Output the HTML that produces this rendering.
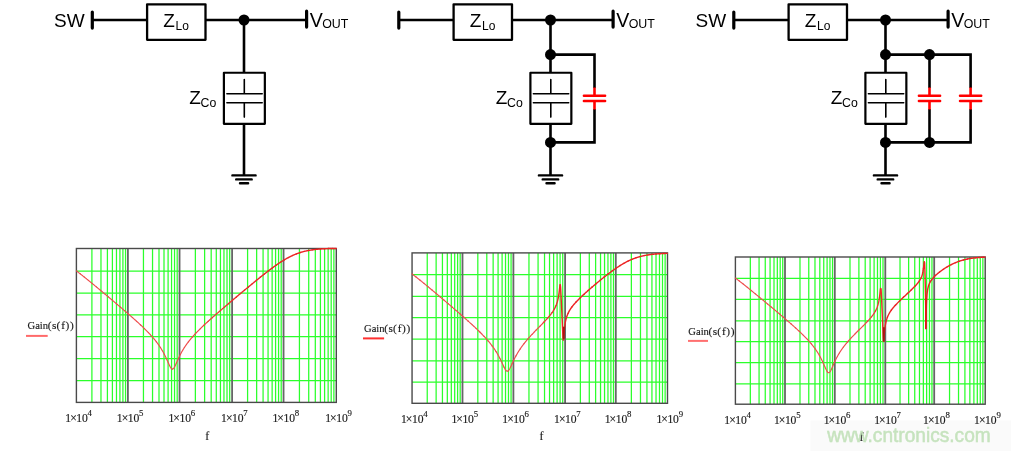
<!DOCTYPE html><html><head><meta charset="utf-8"><style>html,body{margin:0;padding:0;background:#fff;overflow:hidden}svg{display:block;will-change:transform}.s{font-family:"Liberation Sans",sans-serif;fill:#000}.m{font-family:"Liberation Serif",serif;fill:#1a1a1a;stroke:#1a1a1a;stroke-width:0.15px}</style></head><body><svg width="1011" height="451" viewBox="0 0 1011 451"><g transform="translate(0,0)"><text x="54" y="26.7" class="s" font-size="19">SW</text><g stroke="#000" fill="none" stroke-width="2.6"><path d="M92.3 20H147.2M205.5 20H306.6"/><path d="M244 20V72.8M244 123.8V175.1"/></g><path d="M92.3 12.1V28.1M306.6 11.2V27.1" stroke="#000" stroke-width="3.2" stroke-linecap="round"/><rect x="147.1" y="4.3" width="58.4" height="35.5" fill="none" stroke="#000" stroke-width="2.3" stroke-linejoin="round"/><rect x="223.9" y="72.75" width="40.95" height="51.05" fill="none" stroke="#000" stroke-width="2.2" stroke-linejoin="round"/><path d="M226.9 93.7H262.2M226.9 102.8H262.2M244.3 79.6V93.7M244.3 102.8V117.1" stroke="#000" stroke-width="1.6" fill="none" stroke-linecap="round"/><path d="M232.4 175.4H255.6M236.2 179.4H251.7M240 183.2H248.1" stroke="#000" stroke-width="2.4" stroke-linecap="round"/><circle cx="244" cy="20" r="5.5"/><text x="163.3" y="27" class="s" font-size="19">Z</text><text x="175.6" y="29.8" class="s" font-size="12">Lo</text><text x="309.7" y="26.5" class="s" font-size="19.6">V</text><text x="322.2" y="28.1" class="s" font-size="12.4">OUT</text><text x="189.2" y="103.5" class="s" font-size="19">Z</text><text x="200.5" y="106.6" class="s" font-size="12.3">Co</text></g><g transform="translate(306.5,0)"><g stroke="#000" fill="none" stroke-width="2.6"><path d="M92.3 20H147.2M205.5 20H306.6"/><path d="M244 20V72.8M244 123.8V175.1"/></g><path d="M92.3 12.1V28.1M306.6 11.2V27.1" stroke="#000" stroke-width="3.2" stroke-linecap="round"/><rect x="147.1" y="4.3" width="58.4" height="35.5" fill="none" stroke="#000" stroke-width="2.3" stroke-linejoin="round"/><rect x="223.9" y="72.75" width="40.95" height="51.05" fill="none" stroke="#000" stroke-width="2.2" stroke-linejoin="round"/><path d="M226.9 93.7H262.2M226.9 102.8H262.2M244.3 79.6V93.7M244.3 102.8V117.1" stroke="#000" stroke-width="1.6" fill="none" stroke-linecap="round"/><path d="M232.4 175.4H255.6M236.2 179.4H251.7M240 183.2H248.1" stroke="#000" stroke-width="2.4" stroke-linecap="round"/><circle cx="244" cy="20" r="5.5"/><text x="163.3" y="27" class="s" font-size="19">Z</text><text x="175.6" y="29.8" class="s" font-size="12">Lo</text><text x="309.7" y="26.5" class="s" font-size="19.6">V</text><text x="322.2" y="28.1" class="s" font-size="12.4">OUT</text><text x="189.2" y="103.5" class="s" font-size="19">Z</text><text x="200.5" y="106.6" class="s" font-size="12.3">Co</text><path d="M244 54.6 H288 V88 M244 142.4 H288 V109" stroke="#000" stroke-width="2.6" fill="none"/><path d="M288 87.5V95.7M288 100.9V109.5" stroke="#f00" stroke-width="2.6" fill="none"/><path d="M277.4 95.7H298.6 M277.4 100.9H298.6" stroke="#f00" stroke-width="2.5" stroke-linecap="round"/><circle cx="244" cy="54.6" r="5.5"/><circle cx="244" cy="142.4" r="5.5"/></g><g transform="translate(641.5,0)"><text x="54" y="26.7" class="s" font-size="19">SW</text><g stroke="#000" fill="none" stroke-width="2.6"><path d="M92.3 20H147.2M205.5 20H306.6"/><path d="M244 20V72.8M244 123.8V175.1"/></g><path d="M92.3 12.1V28.1M306.6 11.2V27.1" stroke="#000" stroke-width="3.2" stroke-linecap="round"/><rect x="147.1" y="4.3" width="58.4" height="35.5" fill="none" stroke="#000" stroke-width="2.3" stroke-linejoin="round"/><rect x="223.9" y="72.75" width="40.95" height="51.05" fill="none" stroke="#000" stroke-width="2.2" stroke-linejoin="round"/><path d="M226.9 93.7H262.2M226.9 102.8H262.2M244.3 79.6V93.7M244.3 102.8V117.1" stroke="#000" stroke-width="1.6" fill="none" stroke-linecap="round"/><path d="M232.4 175.4H255.6M236.2 179.4H251.7M240 183.2H248.1" stroke="#000" stroke-width="2.4" stroke-linecap="round"/><circle cx="244" cy="20" r="5.5"/><text x="163.3" y="27" class="s" font-size="19">Z</text><text x="175.6" y="29.8" class="s" font-size="12">Lo</text><text x="309.7" y="26.5" class="s" font-size="19.6">V</text><text x="322.2" y="28.1" class="s" font-size="12.4">OUT</text><text x="189.2" y="103.5" class="s" font-size="19">Z</text><text x="200.5" y="106.6" class="s" font-size="12.3">Co</text><path d="M244 54.6 H329.1 V88 M244 142.4 H329.1 V109" stroke="#000" stroke-width="2.6" fill="none"/><path d="M288 54.6 V88 M288 142.4 V109" stroke="#000" stroke-width="2.6" fill="none"/><path d="M288 87.5V95.7M288 100.9V109.5" stroke="#f00" stroke-width="2.6" fill="none"/><path d="M277.4 95.7H298.6 M277.4 100.9H298.6" stroke="#f00" stroke-width="2.5" stroke-linecap="round"/><path d="M329.1 87.5V95.7M329.1 100.9V109.5" stroke="#f00" stroke-width="2.6" fill="none"/><path d="M318.5 95.7H339.7 M318.5 100.9H339.7" stroke="#f00" stroke-width="2.5" stroke-linecap="round"/><circle cx="244" cy="54.6" r="5.5"/><circle cx="244" cy="142.4" r="5.5"/><circle cx="288" cy="54.6" r="5.5"/><circle cx="288" cy="142.4" r="5.5"/></g><rect x="810.5" y="420.5" width="200.5" height="30.5" fill="#fafafa"/><path d="M76.4 271.1H336.3M76.4 293.2H336.3M76.4 314.9H336.3M76.4 336.7H336.3M76.4 358.6H336.3M76.4 380.7H336.3M91.9 248.5V402.4M100.97 248.5V402.4M107.41 248.5V402.4M112.4 248.5V402.4M116.47 248.5V402.4M119.92 248.5V402.4M122.91 248.5V402.4M125.54 248.5V402.4M143.45 248.5V402.4M152.54 248.5V402.4M159 248.5V402.4M164 248.5V402.4M168.09 248.5V402.4M171.55 248.5V402.4M174.54 248.5V402.4M177.19 248.5V402.4M195.37 248.5V402.4M204.62 248.5V402.4M211.19 248.5V402.4M216.28 248.5V402.4M220.44 248.5V402.4M223.96 248.5V402.4M227.01 248.5V402.4M229.7 248.5V402.4M247.59 248.5V402.4M256.65 248.5V402.4M263.08 248.5V402.4M268.06 248.5V402.4M272.14 248.5V402.4M275.58 248.5V402.4M278.56 248.5V402.4M281.2 248.5V402.4M299.43 248.5V402.4M308.72 248.5V402.4M315.31 248.5V402.4M320.42 248.5V402.4M324.6 248.5V402.4M328.13 248.5V402.4M331.19 248.5V402.4M333.89 248.5V402.4" stroke="#2bff2b" stroke-width="1.25" fill="none"/><path d="M127.9 248.5V402.4M179.55 248.5V402.4M232.1 248.5V402.4M283.55 248.5V402.4" stroke="#666" stroke-width="1.8" fill="none"/><rect x="76.4" y="248.5" width="259.9" height="153.9" fill="none" stroke="#4a4a4a" stroke-width="1.4"/><polyline points="76.4,270.86 76.65,271.05 76.9,271.24 77.15,271.43 77.4,271.62 77.65,271.82 77.9,272.01 78.15,272.2 78.4,272.4 78.65,272.59 78.9,272.79 79.15,272.98 79.4,273.18 79.65,273.37 79.9,273.57 80.15,273.76 80.4,273.96" stroke="#ee4c4c" stroke-width="1.15" fill="none" stroke-linejoin="round" stroke-linecap="round"/><polyline points="80.4,273.96 80.65,274.16 80.9,274.35 81.15,274.55 81.4,274.75 81.65,274.94 81.9,275.14 82.15,275.34 82.4,275.54 82.65,275.74 82.9,275.94 83.15,276.13 83.4,276.33 83.65,276.53 83.9,276.73 84.15,276.93 84.4,277.13" stroke="#ee4c4c" stroke-width="1.15" fill="none" stroke-linejoin="round" stroke-linecap="round"/><polyline points="84.4,277.13 84.65,277.33 84.9,277.53 85.15,277.74 85.4,277.94 85.65,278.14 85.9,278.34 86.15,278.54 86.4,278.74 86.65,278.94 86.9,279.15 87.15,279.35 87.4,279.55 87.65,279.75 87.9,279.96 88.15,280.16 88.4,280.36" stroke="#ee4c4c" stroke-width="1.15" fill="none" stroke-linejoin="round" stroke-linecap="round"/><polyline points="88.4,280.36 88.65,280.57 88.9,280.77 89.15,280.97 89.4,281.18 89.65,281.38 89.9,281.59 90.15,281.79 90.4,281.99 90.65,282.2 90.9,282.4 91.15,282.61 91.4,282.81 91.65,283.02 91.9,283.22 92.15,283.43 92.4,283.63" stroke="#ee4c4c" stroke-width="1.15" fill="none" stroke-linejoin="round" stroke-linecap="round"/><polyline points="92.4,283.63 92.65,283.84 92.9,284.04 93.15,284.25 93.4,284.45 93.65,284.66 93.9,284.87 94.15,285.07 94.4,285.28 94.65,285.49 94.9,285.69 95.15,285.9 95.4,286.1 95.65,286.31 95.9,286.52 96.15,286.72 96.4,286.93" stroke="#ee4c4c" stroke-width="1.15" fill="none" stroke-linejoin="round" stroke-linecap="round"/><polyline points="96.4,286.93 96.65,287.14 96.9,287.35 97.15,287.55 97.4,287.76 97.65,287.97 97.9,288.17 98.15,288.38 98.4,288.59 98.65,288.8 98.9,289 99.15,289.21 99.4,289.42 99.65,289.63 99.9,289.84 100.15,290.04 100.4,290.25" stroke="#ee4c4c" stroke-width="1.15" fill="none" stroke-linejoin="round" stroke-linecap="round"/><polyline points="100.4,290.25 100.65,290.46 100.9,290.67 101.15,290.88 101.4,291.09 101.65,291.29 101.9,291.5 102.15,291.71 102.4,291.92 102.65,292.13 102.9,292.34 103.15,292.55 103.4,292.76 103.65,292.96 103.9,293.17 104.15,293.38 104.4,293.59" stroke="#ee4c4c" stroke-width="1.15" fill="none" stroke-linejoin="round" stroke-linecap="round"/><polyline points="104.4,293.59 104.65,293.8 104.9,294.01 105.15,294.22 105.4,294.43 105.65,294.64 105.9,294.85 106.15,295.06 106.4,295.27 106.65,295.48 106.9,295.69 107.15,295.9 107.4,296.11 107.65,296.32 107.9,296.53 108.15,296.74 108.4,296.95" stroke="#ee4c4c" stroke-width="1.15" fill="none" stroke-linejoin="round" stroke-linecap="round"/><polyline points="108.4,296.95 108.65,297.16 108.9,297.37 109.15,297.58 109.4,297.79 109.65,298 109.9,298.21 110.15,298.42 110.4,298.63 110.65,298.84 110.9,299.05 111.15,299.26 111.4,299.47 111.65,299.68 111.9,299.89 112.15,300.1 112.4,300.31" stroke="#ee4c4c" stroke-width="1.15" fill="none" stroke-linejoin="round" stroke-linecap="round"/><polyline points="112.4,300.31 112.65,300.53 112.9,300.74 113.15,300.95 113.4,301.16 113.65,301.37 113.9,301.58 114.15,301.79 114.4,302 114.65,302.22 114.9,302.43 115.15,302.64 115.4,302.85 115.65,303.06 115.9,303.28 116.15,303.49 116.4,303.7" stroke="#ee4c4c" stroke-width="1.15" fill="none" stroke-linejoin="round" stroke-linecap="round"/><polyline points="116.4,303.7 116.65,303.91 116.9,304.12 117.15,304.34 117.4,304.55 117.65,304.76 117.9,304.97 118.15,305.19 118.4,305.4 118.65,305.61 118.9,305.82 119.15,306.04 119.4,306.25 119.65,306.46 119.9,306.68 120.15,306.89 120.4,307.1" stroke="#ee4c4c" stroke-width="1.15" fill="none" stroke-linejoin="round" stroke-linecap="round"/><polyline points="120.4,307.1 120.65,307.32 120.9,307.53 121.15,307.74 121.4,307.96 121.65,308.17 121.9,308.39 122.15,308.6 122.4,308.81 122.65,309.03 122.9,309.24 123.15,309.46 123.4,309.67 123.65,309.89 123.9,310.1 124.15,310.32 124.4,310.53" stroke="#ee4c4c" stroke-width="1.15" fill="none" stroke-linejoin="round" stroke-linecap="round"/><polyline points="124.4,310.53 124.65,310.75 124.9,310.96 125.15,311.18 125.4,311.39 125.65,311.61 125.9,311.83 126.15,312.04 126.4,312.26 126.65,312.48 126.9,312.69 127.15,312.91 127.4,313.13 127.65,313.34 127.9,313.56 128.15,313.78 128.4,314" stroke="#ee4c4c" stroke-width="1.15" fill="none" stroke-linejoin="round" stroke-linecap="round"/><polyline points="128.4,314 128.65,314.21 128.9,314.43 129.15,314.65 129.4,314.87 129.65,315.09 129.9,315.31 130.15,315.53 130.4,315.74 130.65,315.96 130.9,316.18 131.15,316.4 131.4,316.62 131.65,316.84 131.9,317.07 132.15,317.29 132.4,317.51" stroke="#ee4c4c" stroke-width="1.15" fill="none" stroke-linejoin="round" stroke-linecap="round"/><polyline points="132.4,317.51 132.65,317.73 132.9,317.95 133.15,318.17 133.4,318.4 133.65,318.62 133.9,318.84 134.15,319.06 134.4,319.29 134.65,319.51 134.9,319.74 135.15,319.96 135.4,320.18 135.65,320.41 135.9,320.64 136.15,320.86 136.4,321.09" stroke="#ee4c4c" stroke-width="1.15" fill="none" stroke-linejoin="round" stroke-linecap="round"/><polyline points="136.4,321.09 136.65,321.31 136.9,321.54 137.15,321.77 137.4,322 137.65,322.22 137.9,322.45 138.15,322.68 138.4,322.91 138.65,323.14 138.9,323.37 139.15,323.6 139.4,323.84 139.65,324.07 139.9,324.3 140.15,324.53 140.4,324.77" stroke="#ee4c4c" stroke-width="1.15" fill="none" stroke-linejoin="round" stroke-linecap="round"/><polyline points="140.4,324.77 140.65,325 140.9,325.24 141.15,325.47 141.4,325.71 141.65,325.94 141.9,326.18 142.15,326.42 142.4,326.66 142.65,326.9 142.9,327.14 143.15,327.38 143.4,327.62 143.65,327.86 143.9,328.1 144.15,328.35 144.4,328.59" stroke="#ee4c4c" stroke-width="1.15" fill="none" stroke-linejoin="round" stroke-linecap="round"/><polyline points="144.4,328.59 144.65,328.84 144.9,329.08 145.15,329.33 145.4,329.58 145.65,329.83 145.9,330.07 146.15,330.33 146.4,330.58 146.65,330.83 146.9,331.08 147.15,331.34 147.4,331.59 147.65,331.85 147.9,332.11 148.15,332.37 148.4,332.63" stroke="#ee4c4c" stroke-width="1.15" fill="none" stroke-linejoin="round" stroke-linecap="round"/><polyline points="148.4,332.63 148.65,332.89 148.9,333.15 149.15,333.42 149.4,333.68 149.65,333.95 149.9,334.22 150.15,334.49 150.4,334.76 150.65,335.03 150.9,335.31 151.15,335.58 151.4,335.86 151.65,336.14 151.9,336.42 152.15,336.71 152.4,336.99" stroke="#ee4c4c" stroke-width="1.15" fill="none" stroke-linejoin="round" stroke-linecap="round"/><polyline points="152.4,336.99 152.65,337.28 152.9,337.57 153.15,337.86 153.4,338.15 153.65,338.44 153.9,338.74 154.15,339.04 154.4,339.34 154.65,339.65 154.9,339.95 155.15,340.26 155.4,340.58 155.65,340.89 155.9,341.21 156.15,341.53 156.4,341.85" stroke="#ee4c4c" stroke-width="1.15" fill="none" stroke-linejoin="round" stroke-linecap="round"/><polyline points="156.4,341.85 156.65,342.18 156.9,342.51 157.15,342.84 157.4,343.18 157.65,343.51 157.9,343.86 158.15,344.2 158.4,344.55 158.65,344.91 158.9,345.27 159.15,345.63 159.4,345.99 159.65,346.37 159.9,346.74 160.15,347.12 160.4,347.51" stroke="#ee4c4c" stroke-width="1.15" fill="none" stroke-linejoin="round" stroke-linecap="round"/><polyline points="160.4,347.51 160.65,347.89 160.9,348.29 161.15,348.69 161.4,349.09 161.65,349.5 161.9,349.92 162.15,350.34 162.4,350.77 162.65,351.21 162.9,351.65 163.15,352.09 163.4,352.55 163.65,353.01 163.9,353.48 164.15,353.95 164.4,354.43" stroke="#ee4c4c" stroke-width="1.15" fill="none" stroke-linejoin="round" stroke-linecap="round"/><polyline points="164.4,354.43 164.65,354.92 164.9,355.42 165.15,355.92 165.4,356.43 165.65,356.95 165.9,357.47 166.15,358 166.4,358.54 166.65,359.09 166.9,359.64 167.15,360.19 167.4,360.75 167.65,361.32 167.9,361.88 168.15,362.45 168.4,363.01" stroke="#ee4c4c" stroke-width="1.15" fill="none" stroke-linejoin="round" stroke-linecap="round"/><polyline points="168.4,363.01 168.65,363.57 168.9,364.13 169.15,364.68 169.4,365.21 169.65,365.73 169.9,366.23 170.15,366.71 170.4,367.16 170.65,367.57 170.9,367.94 171.15,368.26 171.4,368.54 171.65,368.76 171.9,368.92 172.15,369.01 172.4,369.05" stroke="#ee4c4c" stroke-width="1.15" fill="none" stroke-linejoin="round" stroke-linecap="round"/><polyline points="172.4,369.05 172.65,369.01 172.9,368.92 173.15,368.76 173.4,368.54 173.65,368.26 173.9,367.94 174.15,367.57 174.4,367.16 174.65,366.71 174.9,366.23 175.15,365.73 175.4,365.21 175.65,364.68 175.9,364.13 176.15,363.57 176.4,363.01" stroke="#ee4c4c" stroke-width="1.15" fill="none" stroke-linejoin="round" stroke-linecap="round"/><polyline points="176.4,363.01 176.65,362.45 176.9,361.88 177.15,361.31 177.4,360.75 177.65,360.19 177.9,359.64 178.15,359.08 178.4,358.54 178.65,358 178.9,357.47 179.15,356.95 179.4,356.43 179.65,355.92 179.9,355.41 180.15,354.92 180.4,354.43" stroke="#ee4c4c" stroke-width="1.15" fill="none" stroke-linejoin="round" stroke-linecap="round"/><polyline points="180.4,354.43 180.65,353.95 180.9,353.47 181.15,353.01 181.4,352.55 181.65,352.09 181.9,351.65 182.15,351.2 182.4,350.77 182.65,350.34 182.9,349.92 183.15,349.5 183.4,349.09 183.65,348.69 183.9,348.29 184.15,347.89 184.4,347.5" stroke="#ee4b4b" stroke-width="1.16" fill="none" stroke-linejoin="round" stroke-linecap="round"/><polyline points="184.4,347.5 184.65,347.12 184.9,346.74 185.15,346.36 185.4,345.99 185.65,345.63 185.9,345.27 186.15,344.91 186.4,344.55 186.65,344.2 186.9,343.86 187.15,343.51 187.4,343.17 187.65,342.84 187.9,342.51 188.15,342.18 188.4,341.85" stroke="#ee4a4a" stroke-width="1.16" fill="none" stroke-linejoin="round" stroke-linecap="round"/><polyline points="188.4,341.85 188.65,341.53 188.9,341.21 189.15,340.89 189.4,340.57 189.65,340.26 189.9,339.95 190.15,339.65 190.4,339.34 190.65,339.04 190.9,338.74 191.15,338.44 191.4,338.15 191.65,337.86 191.9,337.56 192.15,337.28 192.4,336.99" stroke="#ee4848" stroke-width="1.17" fill="none" stroke-linejoin="round" stroke-linecap="round"/><polyline points="192.4,336.99 192.65,336.7 192.9,336.42 193.15,336.14 193.4,335.86 193.65,335.58 193.9,335.31 194.15,335.03 194.4,334.76 194.65,334.49 194.9,334.22 195.15,333.95 195.4,333.68 195.65,333.42 195.9,333.15 196.15,332.89 196.4,332.63" stroke="#ee4646" stroke-width="1.18" fill="none" stroke-linejoin="round" stroke-linecap="round"/><polyline points="196.4,332.63 196.65,332.37 196.9,332.11 197.15,331.85 197.4,331.59 197.65,331.34 197.9,331.08 198.15,330.83 198.4,330.58 198.65,330.32 198.9,330.07 199.15,329.82 199.4,329.58 199.65,329.33 199.9,329.08 200.15,328.83 200.4,328.59" stroke="#ee4444" stroke-width="1.2" fill="none" stroke-linejoin="round" stroke-linecap="round"/><polyline points="200.4,328.59 200.65,328.35 200.9,328.1 201.15,327.86 201.4,327.62 201.65,327.38 201.9,327.13 202.15,326.9 202.4,326.66 202.65,326.42 202.9,326.18 203.15,325.94 203.4,325.71 203.65,325.47 203.9,325.23 204.15,325 204.4,324.77" stroke="#ee4242" stroke-width="1.21" fill="none" stroke-linejoin="round" stroke-linecap="round"/><polyline points="204.4,324.77 204.65,324.53 204.9,324.3 205.15,324.07 205.4,323.83 205.65,323.6 205.9,323.37 206.15,323.14 206.4,322.91 206.65,322.68 206.9,322.45 207.15,322.22 207.4,322 207.65,321.77 207.9,321.54 208.15,321.31 208.4,321.09" stroke="#ed3f3f" stroke-width="1.23" fill="none" stroke-linejoin="round" stroke-linecap="round"/><polyline points="208.4,321.09 208.65,320.86 208.9,320.63 209.15,320.41 209.4,320.18 209.65,319.96 209.9,319.73 210.15,319.51 210.4,319.29 210.65,319.06 210.9,318.84 211.15,318.62 211.4,318.39 211.65,318.17 211.9,317.95 212.15,317.73 212.4,317.51" stroke="#ed3c3c" stroke-width="1.24" fill="none" stroke-linejoin="round" stroke-linecap="round"/><polyline points="212.4,317.51 212.65,317.29 212.9,317.06 213.15,316.84 213.4,316.62 213.65,316.4 213.9,316.18 214.15,315.96 214.4,315.74 214.65,315.52 214.9,315.31 215.15,315.09 215.4,314.87 215.65,314.65 215.9,314.43 216.15,314.21 216.4,314" stroke="#ed3939" stroke-width="1.26" fill="none" stroke-linejoin="round" stroke-linecap="round"/><polyline points="216.4,314 216.65,313.78 216.9,313.56 217.15,313.34 217.4,313.13 217.65,312.91 217.9,312.69 218.15,312.48 218.4,312.26 218.65,312.04 218.9,311.83 219.15,311.61 219.4,311.39 219.65,311.18 219.9,310.96 220.15,310.75 220.4,310.53" stroke="#ed3636" stroke-width="1.28" fill="none" stroke-linejoin="round" stroke-linecap="round"/><polyline points="220.4,310.53 220.65,310.32 220.9,310.1 221.15,309.89 221.4,309.67 221.65,309.46 221.9,309.24 222.15,309.03 222.4,308.81 222.65,308.6 222.9,308.39 223.15,308.17 223.4,307.96 223.65,307.74 223.9,307.53 224.15,307.32 224.4,307.1" stroke="#ed3333" stroke-width="1.3" fill="none" stroke-linejoin="round" stroke-linecap="round"/><polyline points="224.4,307.1 224.65,306.89 224.9,306.68 225.15,306.46 225.4,306.25 225.65,306.04 225.9,305.82 226.15,305.61 226.4,305.4 226.65,305.19 226.9,304.97 227.15,304.76 227.4,304.55 227.65,304.34 227.9,304.12 228.15,303.91 228.4,303.7" stroke="#ed3030" stroke-width="1.31" fill="none" stroke-linejoin="round" stroke-linecap="round"/><polyline points="228.4,303.7 228.65,303.49 228.9,303.27 229.15,303.06 229.4,302.85 229.65,302.64 229.9,302.43 230.15,302.22 230.4,302 230.65,301.79 230.9,301.58 231.15,301.37 231.4,301.16 231.65,300.95 231.9,300.74 232.15,300.52 232.4,300.31" stroke="#ed2e2e" stroke-width="1.33" fill="none" stroke-linejoin="round" stroke-linecap="round"/><polyline points="232.4,300.31 232.65,300.1 232.9,299.89 233.15,299.68 233.4,299.47 233.65,299.26 233.9,299.05 234.15,298.84 234.4,298.63 234.65,298.42 234.9,298.21 235.15,298 235.4,297.79 235.65,297.58 235.9,297.37 236.15,297.16 236.4,296.94" stroke="#ec2b2b" stroke-width="1.35" fill="none" stroke-linejoin="round" stroke-linecap="round"/><polyline points="236.4,296.94 236.65,296.73 236.9,296.52 237.15,296.31 237.4,296.1 237.65,295.9 237.9,295.69 238.15,295.48 238.4,295.27 238.65,295.06 238.9,294.85 239.15,294.64 239.4,294.43 239.65,294.22 239.9,294.01 240.15,293.8 240.4,293.59" stroke="#ec2929" stroke-width="1.36" fill="none" stroke-linejoin="round" stroke-linecap="round"/><polyline points="240.4,293.59 240.65,293.38 240.9,293.17 241.15,292.96 241.4,292.75 241.65,292.55 241.9,292.34 242.15,292.13 242.4,291.92 242.65,291.71 242.9,291.5 243.15,291.29 243.4,291.08 243.65,290.88 243.9,290.67 244.15,290.46 244.4,290.25" stroke="#ec2727" stroke-width="1.37" fill="none" stroke-linejoin="round" stroke-linecap="round"/><polyline points="244.4,290.25 244.65,290.04 244.9,289.84 245.15,289.63 245.4,289.42 245.65,289.21 245.9,289 246.15,288.8 246.4,288.59 246.65,288.38 246.9,288.17 247.15,287.97 247.4,287.76 247.65,287.55 247.9,287.34 248.15,287.14 248.4,286.93" stroke="#ec2525" stroke-width="1.38" fill="none" stroke-linejoin="round" stroke-linecap="round"/><polyline points="248.4,286.93 248.65,286.72 248.9,286.52 249.15,286.31 249.4,286.1 249.65,285.9 249.9,285.69 250.15,285.48 250.4,285.28 250.65,285.07 250.9,284.87 251.15,284.66 251.4,284.45 251.65,284.25 251.9,284.04 252.15,283.84 252.4,283.63" stroke="#ec2323" stroke-width="1.39" fill="none" stroke-linejoin="round" stroke-linecap="round"/><polyline points="252.4,283.63 252.65,283.43 252.9,283.22 253.15,283.02 253.4,282.81 253.65,282.61 253.9,282.4 254.15,282.2 254.4,281.99 254.65,281.79 254.9,281.58 255.15,281.38 255.4,281.18 255.65,280.97 255.9,280.77 256.15,280.57 256.4,280.36" stroke="#ec2323" stroke-width="1.4" fill="none" stroke-linejoin="round" stroke-linecap="round"/><polyline points="256.4,280.36 256.65,280.16 256.9,279.96 257.15,279.75 257.4,279.55 257.65,279.35 257.9,279.15 258.15,278.94 258.4,278.74 258.65,278.54 258.9,278.34 259.15,278.14 259.4,277.94 259.65,277.74 259.9,277.53 260.15,277.33 260.4,277.13" stroke="#ec2222" stroke-width="1.4" fill="none" stroke-linejoin="round" stroke-linecap="round"/><polyline points="260.4,277.13 260.65,276.93 260.9,276.73 261.15,276.53 261.4,276.33 261.65,276.13 261.9,275.94 262.15,275.74 262.4,275.54 262.65,275.34 262.9,275.14 263.15,274.94 263.4,274.75 263.65,274.55 263.9,274.35 264.15,274.15 264.4,273.96" stroke="#ec2222" stroke-width="1.4" fill="none" stroke-linejoin="round" stroke-linecap="round"/><polyline points="264.4,273.96 264.65,273.76 264.9,273.57 265.15,273.37 265.4,273.18 265.65,272.98 265.9,272.79 266.15,272.59 266.4,272.4 266.65,272.2 266.9,272.01 267.15,271.82 267.4,271.62 267.65,271.43 267.9,271.24 268.15,271.05 268.4,270.86" stroke="#ec2222" stroke-width="1.4" fill="none" stroke-linejoin="round" stroke-linecap="round"/><polyline points="268.4,270.86 268.65,270.67 268.9,270.48 269.15,270.29 269.4,270.1 269.65,269.91 269.9,269.72 270.15,269.53 270.4,269.34 270.65,269.15 270.9,268.97 271.15,268.78 271.4,268.59 271.65,268.41 271.9,268.22 272.15,268.04 272.4,267.85" stroke="#ec2222" stroke-width="1.4" fill="none" stroke-linejoin="round" stroke-linecap="round"/><polyline points="272.4,267.85 272.65,267.67 272.9,267.49 273.15,267.31 273.4,267.12 273.65,266.94 273.9,266.76 274.15,266.58 274.4,266.4 274.65,266.22 274.9,266.04 275.15,265.86 275.4,265.69 275.65,265.51 275.9,265.33 276.15,265.16 276.4,264.98" stroke="#ec2222" stroke-width="1.4" fill="none" stroke-linejoin="round" stroke-linecap="round"/><polyline points="276.4,264.98 276.65,264.81 276.9,264.63 277.15,264.46 277.4,264.29 277.65,264.12 277.9,263.95 278.15,263.78 278.4,263.61 278.65,263.44 278.9,263.27 279.15,263.1 279.4,262.94 279.65,262.77 279.9,262.61 280.15,262.44 280.4,262.28" stroke="#ec2222" stroke-width="1.4" fill="none" stroke-linejoin="round" stroke-linecap="round"/><polyline points="280.4,262.28 280.65,262.12 280.9,261.95 281.15,261.79 281.4,261.63 281.65,261.47 281.9,261.32 282.15,261.16 282.4,261 282.65,260.85 282.9,260.69 283.15,260.54 283.4,260.38 283.65,260.23 283.9,260.08 284.15,259.93 284.4,259.78" stroke="#ec2222" stroke-width="1.4" fill="none" stroke-linejoin="round" stroke-linecap="round"/><polyline points="284.4,259.78 284.65,259.63 284.9,259.48 285.15,259.34 285.4,259.19 285.65,259.05 285.9,258.91 286.15,258.76 286.4,258.62 286.65,258.48 286.9,258.34 287.15,258.2 287.4,258.07 287.65,257.93 287.9,257.8 288.15,257.66 288.4,257.53" stroke="#ec2222" stroke-width="1.4" fill="none" stroke-linejoin="round" stroke-linecap="round"/><polyline points="288.4,257.53 288.65,257.4 288.9,257.27 289.15,257.14 289.4,257.01 289.65,256.88 289.9,256.75 290.15,256.63 290.4,256.5 290.65,256.38 290.9,256.26 291.15,256.14 291.4,256.02 291.65,255.9 291.9,255.78 292.15,255.67 292.4,255.55" stroke="#ec2222" stroke-width="1.4" fill="none" stroke-linejoin="round" stroke-linecap="round"/><polyline points="292.4,255.55 292.65,255.44 292.9,255.33 293.15,255.21 293.4,255.1 293.65,254.99 293.9,254.89 294.15,254.78 294.4,254.67 294.65,254.57 294.9,254.47 295.15,254.36 295.4,254.26 295.65,254.16 295.9,254.06 296.15,253.97 296.4,253.87" stroke="#ec2222" stroke-width="1.4" fill="none" stroke-linejoin="round" stroke-linecap="round"/><polyline points="296.4,253.87 296.65,253.77 296.9,253.68 297.15,253.59 297.4,253.5 297.65,253.4 297.9,253.32 298.15,253.23 298.4,253.14 298.65,253.05 298.9,252.97 299.15,252.88 299.4,252.8 299.65,252.72 299.9,252.64 300.15,252.56 300.4,252.48" stroke="#ec2222" stroke-width="1.4" fill="none" stroke-linejoin="round" stroke-linecap="round"/><polyline points="300.4,252.48 300.65,252.4 300.9,252.33 301.15,252.25 301.4,252.18 301.65,252.11 301.9,252.03 302.15,251.96 302.4,251.89 302.65,251.82 302.9,251.76 303.15,251.69 303.4,251.62 303.65,251.56 303.9,251.49 304.15,251.43 304.4,251.37" stroke="#ec2222" stroke-width="1.4" fill="none" stroke-linejoin="round" stroke-linecap="round"/><polyline points="304.4,251.37 304.65,251.31 304.9,251.25 305.15,251.19 305.4,251.13 305.65,251.07 305.9,251.02 306.15,250.96 306.4,250.91 306.65,250.85 306.9,250.8 307.15,250.75 307.4,250.7 307.65,250.65 307.9,250.6 308.15,250.55 308.4,250.5" stroke="#ec2222" stroke-width="1.4" fill="none" stroke-linejoin="round" stroke-linecap="round"/><polyline points="308.4,250.5 308.65,250.46 308.9,250.41 309.15,250.37 309.4,250.32 309.65,250.28 309.9,250.23 310.15,250.19 310.4,250.15 310.65,250.11 310.9,250.07 311.15,250.03 311.4,249.99 311.65,249.95 311.9,249.92 312.15,249.88 312.4,249.84" stroke="#ec2222" stroke-width="1.4" fill="none" stroke-linejoin="round" stroke-linecap="round"/><polyline points="312.4,249.84 312.65,249.81 312.9,249.78 313.15,249.74 313.4,249.71 313.65,249.68 313.9,249.64 314.15,249.61 314.4,249.58 314.65,249.55 314.9,249.52 315.15,249.49 315.4,249.46 315.65,249.43 315.9,249.41 316.15,249.38 316.4,249.35" stroke="#ec2222" stroke-width="1.4" fill="none" stroke-linejoin="round" stroke-linecap="round"/><polyline points="316.4,249.35 316.65,249.33 316.9,249.3 317.15,249.28 317.4,249.25 317.65,249.23 317.9,249.21 318.15,249.18 318.4,249.16 318.65,249.14 318.9,249.12 319.15,249.09 319.4,249.07 319.65,249.05 319.9,249.03 320.15,249.01 320.4,248.99" stroke="#ec2222" stroke-width="1.4" fill="none" stroke-linejoin="round" stroke-linecap="round"/><polyline points="320.4,248.99 320.65,248.97 320.9,248.96 321.15,248.94 321.4,248.92 321.65,248.9 321.9,248.89 322.15,248.87 322.4,248.85 322.65,248.84 322.9,248.82 323.15,248.8 323.4,248.79 323.65,248.78 323.9,248.76 324.15,248.75 324.4,248.73" stroke="#ec2222" stroke-width="1.4" fill="none" stroke-linejoin="round" stroke-linecap="round"/><polyline points="324.4,248.73 324.65,248.72 324.9,248.71 325.15,248.69 325.4,248.68 325.65,248.67 325.9,248.65 326.15,248.64 326.4,248.63 326.65,248.62 326.9,248.61 327.15,248.6 327.4,248.59 327.65,248.58 327.9,248.56 328.15,248.55 328.4,248.54" stroke="#ec2222" stroke-width="1.4" fill="none" stroke-linejoin="round" stroke-linecap="round"/><polyline points="328.4,248.54 328.65,248.53 328.9,248.53 329.15,248.52 329.4,248.51 329.65,248.5 329.9,248.5 330.15,248.5 330.4,248.5 330.65,248.5 330.9,248.5 331.15,248.5 331.4,248.5 331.65,248.5 331.9,248.5 332.15,248.5 332.4,248.5" stroke="#ec2222" stroke-width="1.4" fill="none" stroke-linejoin="round" stroke-linecap="round"/><polyline points="332.4,248.5 332.65,248.5 332.9,248.5 333.15,248.5 333.4,248.5 333.65,248.5 333.9,248.5 334.15,248.5 334.4,248.5 334.65,248.5 334.9,248.5 335.15,248.5 335.4,248.5 335.65,248.5 335.9,248.5 336.15,248.5" stroke="#ec2222" stroke-width="1.4" fill="none" stroke-linejoin="round" stroke-linecap="round"/><text x="65.3 70.2 76.3 82" y="422" class="m" font-size="11.6">1×10</text><text x="87.6" y="416" class="m" font-size="8.8">4</text><text x="116.8 121.7 127.8 133.5" y="422" class="m" font-size="11.6">1×10</text><text x="139.1" y="416" class="m" font-size="8.8">5</text><text x="168.45 173.35 179.45 185.15" y="422" class="m" font-size="11.6">1×10</text><text x="190.75" y="416" class="m" font-size="8.8">6</text><text x="221 225.9 232 237.7" y="422" class="m" font-size="11.6">1×10</text><text x="243.3" y="416" class="m" font-size="8.8">7</text><text x="272.45 277.35 283.45 289.15" y="422" class="m" font-size="11.6">1×10</text><text x="294.75" y="416" class="m" font-size="8.8">8</text><text x="325.2 330.1 336.2 341.9" y="422" class="m" font-size="11.6">1×10</text><text x="347.5" y="416" class="m" font-size="8.8">9</text><text x="205.2" y="439.5" class="m" font-size="12">f</text><text x="27.5" y="329.1" class="m" font-size="11.3" textLength="20.6" lengthAdjust="spacingAndGlyphs">Gain</text><text x="47.8 51.9 56.4 61.2 65.5 69.9" y="329.1" class="m" font-size="11.3">(s(f))</text><path d="M26 335.9H47.7" stroke="#ff6a6a" stroke-width="2"/><path d="M412.06 274.6H667.5M412.06 296.3H667.5M412.06 317.6H667.5M412.06 339.2H667.5M412.06 360.8H667.5M412.06 382.2H667.5M427.24 252.9V403.3M436.13 252.9V403.3M442.43 252.9V403.3M447.32 252.9V403.3M451.31 252.9V403.3M454.69 252.9V403.3M457.61 252.9V403.3M460.19 252.9V403.3M477.82 252.9V403.3M486.79 252.9V403.3M493.14 252.9V403.3M498.08 252.9V403.3M502.11 252.9V403.3M505.52 252.9V403.3M508.47 252.9V403.3M511.07 252.9V403.3M528.96 252.9V403.3M538.07 252.9V403.3M544.53 252.9V403.3M549.54 252.9V403.3M553.63 252.9V403.3M557.09 252.9V403.3M560.09 252.9V403.3M562.73 252.9V403.3M580.36 252.9V403.3M589.29 252.9V403.3M595.62 252.9V403.3M600.54 252.9V403.3M604.55 252.9V403.3M607.95 252.9V403.3M610.89 252.9V403.3M613.48 252.9V403.3M631.36 252.9V403.3M640.47 252.9V403.3M646.93 252.9V403.3M651.94 252.9V403.3M656.03 252.9V403.3M659.49 252.9V403.3M662.49 252.9V403.3M665.13 252.9V403.3" stroke="#2bff2b" stroke-width="1.25" fill="none"/><path d="M462.5 252.9V403.3M513.4 252.9V403.3M565.1 252.9V403.3M615.8 252.9V403.3" stroke="#666" stroke-width="1.8" fill="none"/><rect x="412.06" y="252.9" width="255.44" height="150.4" fill="none" stroke="#4a4a4a" stroke-width="1.4"/><polyline points="412.06,273.93 412.31,274.12 412.56,274.31 412.81,274.5 413.06,274.69 413.31,274.88 413.56,275.08 413.81,275.27 414.06,275.46 414.31,275.65 414.56,275.85 414.81,276.04 415.06,276.24 415.31,276.43 415.56,276.63 415.81,276.82 416.06,277.02" stroke="#ee4c4c" stroke-width="1.15" fill="none" stroke-linejoin="round" stroke-linecap="round"/><polyline points="416.06,277.02 416.31,277.21 416.56,277.41 416.81,277.61 417.06,277.8 417.31,278 417.56,278.2 417.81,278.4 418.06,278.6 418.31,278.8 418.56,278.99 418.81,279.19 419.06,279.39 419.31,279.59 419.56,279.79 419.81,279.99 420.06,280.2" stroke="#ee4c4c" stroke-width="1.15" fill="none" stroke-linejoin="round" stroke-linecap="round"/><polyline points="420.06,280.2 420.31,280.4 420.56,280.6 420.81,280.8 421.06,281 421.31,281.2 421.56,281.41 421.81,281.61 422.06,281.81 422.31,282.01 422.56,282.22 422.81,282.42 423.06,282.62 423.31,282.83 423.56,283.03 423.81,283.23 424.06,283.44" stroke="#ee4c4c" stroke-width="1.15" fill="none" stroke-linejoin="round" stroke-linecap="round"/><polyline points="424.06,283.44 424.31,283.64 424.56,283.85 424.81,284.05 425.06,284.26 425.31,284.46 425.56,284.67 425.81,284.87 426.06,285.08 426.31,285.29 426.56,285.49 426.81,285.7 427.06,285.91 427.31,286.11 427.56,286.32 427.81,286.53 428.06,286.73" stroke="#ee4c4c" stroke-width="1.15" fill="none" stroke-linejoin="round" stroke-linecap="round"/><polyline points="428.06,286.73 428.31,286.94 428.56,287.15 428.81,287.35 429.06,287.56 429.31,287.77 429.56,287.98 429.81,288.18 430.06,288.39 430.31,288.6 430.56,288.81 430.81,289.02 431.06,289.23 431.31,289.43 431.56,289.64 431.81,289.85 432.06,290.06" stroke="#ee4c4c" stroke-width="1.15" fill="none" stroke-linejoin="round" stroke-linecap="round"/><polyline points="432.06,290.06 432.31,290.27 432.56,290.48 432.81,290.69 433.06,290.9 433.31,291.11 433.56,291.32 433.81,291.53 434.06,291.74 434.31,291.95 434.56,292.16 434.81,292.37 435.06,292.58 435.31,292.79 435.56,293 435.81,293.21 436.06,293.42" stroke="#ee4c4c" stroke-width="1.15" fill="none" stroke-linejoin="round" stroke-linecap="round"/><polyline points="436.06,293.42 436.31,293.63 436.56,293.84 436.81,294.05 437.06,294.26 437.31,294.47 437.56,294.68 437.81,294.89 438.06,295.1 438.31,295.31 438.56,295.52 438.81,295.74 439.06,295.95 439.31,296.16 439.56,296.37 439.81,296.58 440.06,296.79" stroke="#ee4c4c" stroke-width="1.15" fill="none" stroke-linejoin="round" stroke-linecap="round"/><polyline points="440.06,296.79 440.31,297 440.56,297.22 440.81,297.43 441.06,297.64 441.31,297.85 441.56,298.06 441.81,298.28 442.06,298.49 442.31,298.7 442.56,298.91 442.81,299.12 443.06,299.34 443.31,299.55 443.56,299.76 443.81,299.97 444.06,300.19" stroke="#ee4c4c" stroke-width="1.15" fill="none" stroke-linejoin="round" stroke-linecap="round"/><polyline points="444.06,300.19 444.31,300.4 444.56,300.61 444.81,300.82 445.06,301.04 445.31,301.25 445.56,301.46 445.81,301.68 446.06,301.89 446.31,302.1 446.56,302.32 446.81,302.53 447.06,302.74 447.31,302.96 447.56,303.17 447.81,303.38 448.06,303.6" stroke="#ee4c4c" stroke-width="1.15" fill="none" stroke-linejoin="round" stroke-linecap="round"/><polyline points="448.06,303.6 448.31,303.81 448.56,304.02 448.81,304.24 449.06,304.45 449.31,304.67 449.56,304.88 449.81,305.09 450.06,305.31 450.31,305.52 450.56,305.74 450.81,305.95 451.06,306.16 451.31,306.38 451.56,306.59 451.81,306.81 452.06,307.02" stroke="#ee4c4c" stroke-width="1.15" fill="none" stroke-linejoin="round" stroke-linecap="round"/><polyline points="452.06,307.02 452.31,307.24 452.56,307.45 452.81,307.67 453.06,307.88 453.31,308.1 453.56,308.31 453.81,308.53 454.06,308.74 454.31,308.96 454.56,309.17 454.81,309.39 455.06,309.61 455.31,309.82 455.56,310.04 455.81,310.25 456.06,310.47" stroke="#ee4c4c" stroke-width="1.15" fill="none" stroke-linejoin="round" stroke-linecap="round"/><polyline points="456.06,310.47 456.31,310.69 456.56,310.9 456.81,311.12 457.06,311.34 457.31,311.55 457.56,311.77 457.81,311.99 458.06,312.2 458.31,312.42 458.56,312.64 458.81,312.85 459.06,313.07 459.31,313.29 459.56,313.51 459.81,313.72 460.06,313.94" stroke="#ee4c4c" stroke-width="1.15" fill="none" stroke-linejoin="round" stroke-linecap="round"/><polyline points="460.06,313.94 460.31,314.16 460.56,314.38 460.81,314.6 461.06,314.82 461.31,315.03 461.56,315.25 461.81,315.47 462.06,315.69 462.31,315.91 462.56,316.13 462.81,316.35 463.06,316.57 463.31,316.79 463.56,317.01 463.81,317.23 464.06,317.45" stroke="#ee4c4c" stroke-width="1.15" fill="none" stroke-linejoin="round" stroke-linecap="round"/><polyline points="464.06,317.45 464.31,317.67 464.56,317.89 464.81,318.11 465.06,318.33 465.31,318.56 465.56,318.78 465.81,319 466.06,319.22 466.31,319.44 466.56,319.67 466.81,319.89 467.06,320.11 467.31,320.34 467.56,320.56 467.81,320.78 468.06,321.01" stroke="#ee4c4c" stroke-width="1.15" fill="none" stroke-linejoin="round" stroke-linecap="round"/><polyline points="468.06,321.01 468.31,321.23 468.56,321.46 468.81,321.68 469.06,321.91 469.31,322.13 469.56,322.36 469.81,322.59 470.06,322.81 470.31,323.04 470.56,323.27 470.81,323.49 471.06,323.72 471.31,323.95 471.56,324.18 471.81,324.41 472.06,324.64" stroke="#ee4c4c" stroke-width="1.15" fill="none" stroke-linejoin="round" stroke-linecap="round"/><polyline points="472.06,324.64 472.31,324.87 472.56,325.1 472.81,325.33 473.06,325.56 473.31,325.79 473.56,326.02 473.81,326.25 474.06,326.49 474.31,326.72 474.56,326.95 474.81,327.19 475.06,327.42 475.31,327.66 475.56,327.89 475.81,328.13 476.06,328.37" stroke="#ee4c4c" stroke-width="1.15" fill="none" stroke-linejoin="round" stroke-linecap="round"/><polyline points="476.06,328.37 476.31,328.61 476.56,328.84 476.81,329.08 477.06,329.32 477.31,329.56 477.56,329.8 477.81,330.04 478.06,330.29 478.31,330.53 478.56,330.77 478.81,331.02 479.06,331.26 479.31,331.51 479.56,331.76 479.81,332 480.06,332.25" stroke="#ee4c4c" stroke-width="1.15" fill="none" stroke-linejoin="round" stroke-linecap="round"/><polyline points="480.06,332.25 480.31,332.5 480.56,332.75 480.81,333 481.06,333.25 481.31,333.51 481.56,333.76 481.81,334.01 482.06,334.27 482.31,334.53 482.56,334.79 482.81,335.04 483.06,335.31 483.31,335.57 483.56,335.83 483.81,336.09 484.06,336.36" stroke="#ee4c4c" stroke-width="1.15" fill="none" stroke-linejoin="round" stroke-linecap="round"/><polyline points="484.06,336.36 484.31,336.63 484.56,336.89 484.81,337.16 485.06,337.43 485.31,337.71 485.56,337.98 485.81,338.25 486.06,338.53 486.31,338.81 486.56,339.09 486.81,339.37 487.06,339.65 487.31,339.94 487.56,340.23 487.81,340.52 488.06,340.81" stroke="#ee4c4c" stroke-width="1.15" fill="none" stroke-linejoin="round" stroke-linecap="round"/><polyline points="488.06,340.81 488.31,341.1 488.56,341.4 488.81,341.69 489.06,341.99 489.31,342.3 489.56,342.6 489.81,342.91 490.06,343.22 490.31,343.53 490.56,343.84 490.81,344.16 491.06,344.48 491.31,344.8 491.56,345.13 491.81,345.45 492.06,345.79" stroke="#ee4c4c" stroke-width="1.15" fill="none" stroke-linejoin="round" stroke-linecap="round"/><polyline points="492.06,345.79 492.31,346.12 492.56,346.46 492.81,346.8 493.06,347.15 493.31,347.5 493.56,347.85 493.81,348.2 494.06,348.56 494.31,348.93 494.56,349.3 494.81,349.67 495.06,350.05 495.31,350.43 495.56,350.82 495.81,351.21 496.06,351.61" stroke="#ee4c4c" stroke-width="1.15" fill="none" stroke-linejoin="round" stroke-linecap="round"/><polyline points="496.06,351.61 496.31,352.01 496.56,352.41 496.81,352.83 497.06,353.24 497.31,353.67 497.56,354.1 497.81,354.53 498.06,354.97 498.31,355.42 498.56,355.88 498.81,356.34 499.06,356.8 499.31,357.28 499.56,357.76 499.81,358.24 500.06,358.74" stroke="#ee4c4c" stroke-width="1.15" fill="none" stroke-linejoin="round" stroke-linecap="round"/><polyline points="500.06,358.74 500.31,359.24 500.56,359.74 500.81,360.26 501.06,360.77 501.31,361.3 501.56,361.83 501.81,362.36 502.06,362.9 502.31,363.44 502.56,363.98 502.81,364.53 503.06,365.07 503.31,365.61 503.56,366.15 503.81,366.67 504.06,367.19" stroke="#ee4c4c" stroke-width="1.15" fill="none" stroke-linejoin="round" stroke-linecap="round"/><polyline points="504.06,367.19 504.31,367.7 504.56,368.19 504.81,368.65 505.06,369.1 505.31,369.51 505.56,369.89 505.81,370.23 506.06,370.52 506.31,370.77 506.56,370.97 506.81,371.11 507.06,371.19 507.31,371.21 507.56,371.17 507.81,371.07 508.06,370.91" stroke="#ee4c4c" stroke-width="1.15" fill="none" stroke-linejoin="round" stroke-linecap="round"/><polyline points="508.06,370.91 508.31,370.7 508.56,370.44 508.81,370.13 509.06,369.78 509.31,369.39 509.56,368.97 509.81,368.52 510.06,368.04 510.31,367.55 510.56,367.03 510.81,366.51 511.06,365.98 511.31,365.44 511.56,364.9 511.81,364.35 512.06,363.81" stroke="#ee4c4c" stroke-width="1.15" fill="none" stroke-linejoin="round" stroke-linecap="round"/><polyline points="512.06,363.81 512.31,363.26 512.56,362.72 512.81,362.18 513.06,361.65 513.31,361.12 513.56,360.59 513.81,360.07 514.06,359.56 514.31,359.05 514.56,358.55 514.81,358.06 515.06,357.57 515.31,357.09 515.56,356.62 515.81,356.15 516.06,355.69" stroke="#ee4c4c" stroke-width="1.15" fill="none" stroke-linejoin="round" stroke-linecap="round"/><polyline points="516.06,355.69 516.31,355.24 516.56,354.79 516.81,354.35 517.06,353.91 517.31,353.48 517.56,353.06 517.81,352.64 518.06,352.22 518.31,351.82 518.56,351.41 518.81,351.01 519.06,350.62 519.31,350.23 519.56,349.85 519.81,349.47 520.06,349.1" stroke="#ee4c4c" stroke-width="1.15" fill="none" stroke-linejoin="round" stroke-linecap="round"/><polyline points="520.06,349.1 520.31,348.73 520.56,348.36 520.81,348 521.06,347.64 521.31,347.28 521.56,346.93 521.81,346.58 522.06,346.24 522.31,345.9 522.56,345.56 522.81,345.23 523.06,344.9 523.31,344.57 523.56,344.24 523.81,343.92 524.06,343.6" stroke="#ee4c4c" stroke-width="1.15" fill="none" stroke-linejoin="round" stroke-linecap="round"/><polyline points="524.06,343.6 524.31,343.28 524.56,342.97 524.81,342.65 525.06,342.34 525.31,342.03 525.56,341.73 525.81,341.43 526.06,341.12 526.31,340.82 526.56,340.53 526.81,340.23 527.06,339.94 527.31,339.64 527.56,339.35 527.81,339.07 528.06,338.78" stroke="#ee4c4c" stroke-width="1.15" fill="none" stroke-linejoin="round" stroke-linecap="round"/><polyline points="528.06,338.78 528.31,338.49 528.56,338.21 528.81,337.93 529.06,337.64 529.31,337.37 529.56,337.09 529.81,336.81 530.06,336.53 530.31,336.26 530.56,335.99 530.81,335.71 531.06,335.44 531.31,335.17 531.56,334.9 531.81,334.63 532.06,334.37" stroke="#ee4c4c" stroke-width="1.15" fill="none" stroke-linejoin="round" stroke-linecap="round"/><polyline points="532.06,334.37 532.31,334.1 532.56,333.83 532.81,333.57 533.06,333.31 533.31,333.04 533.56,332.78 533.81,332.52 534.06,332.26 534.31,332 534.56,331.74 534.81,331.48 535.06,331.22 535.31,330.96 535.56,330.7 535.81,330.44 536.06,330.19" stroke="#ee4b4b" stroke-width="1.16" fill="none" stroke-linejoin="round" stroke-linecap="round"/><polyline points="536.06,330.19 536.31,329.93 536.56,329.67 536.81,329.42 537.06,329.16 537.31,328.91 537.56,328.65 537.81,328.4 538.06,328.14 538.31,327.89 538.56,327.63 538.81,327.38 539.06,327.12 539.31,326.87 539.56,326.61 539.81,326.36 540.06,326.1" stroke="#ee4747" stroke-width="1.18" fill="none" stroke-linejoin="round" stroke-linecap="round"/><polyline points="540.06,326.1 540.31,325.85 540.56,325.59 540.81,325.34 541.06,325.08 541.31,324.83 541.56,324.57 541.81,324.32 542.06,324.06 542.31,323.8 542.56,323.55 542.81,323.29 543.06,323.03 543.31,322.77 543.56,322.51 543.81,322.25 544.06,321.99" stroke="#ed4141" stroke-width="1.22" fill="none" stroke-linejoin="round" stroke-linecap="round"/><polyline points="544.06,321.99 544.31,321.73 544.56,321.46 544.81,321.2 545.06,320.93 545.31,320.67 545.56,320.4 545.81,320.13 546.06,319.86 546.31,319.59 546.56,319.32 546.81,319.04 547.06,318.77 547.31,318.49 547.56,318.21 547.81,317.93 548.06,317.64" stroke="#ed3a3a" stroke-width="1.25" fill="none" stroke-linejoin="round" stroke-linecap="round"/><polyline points="548.06,317.64 548.31,317.36 548.56,317.07 548.81,316.78 549.06,316.48 549.31,316.19 549.56,315.89 549.81,315.58 550.06,315.28 550.31,314.96 550.56,314.65 550.81,314.33 551.06,314 551.31,313.67 551.56,313.34 551.81,312.99 552.06,312.65" stroke="#ed3333" stroke-width="1.3" fill="none" stroke-linejoin="round" stroke-linecap="round"/><polyline points="552.06,312.65 552.31,312.29 552.56,311.93 552.81,311.56 553.06,311.17 553.31,310.78 553.56,310.38 553.81,309.97 554.06,309.54 554.31,309.1 554.56,308.64 554.81,308.17 555.06,307.67 555.31,307.16 555.56,306.61 555.81,306.05 556.06,305.44" stroke="#ed2d2d" stroke-width="1.34" fill="none" stroke-linejoin="round" stroke-linecap="round"/><polyline points="556.06,305.44 556.31,304.81 556.56,304.13 556.81,303.4 557.06,302.62 557.31,301.78 557.56,300.86 557.81,299.85 558.06,298.74 558.31,297.5 558.56,296.11 558.81,294.55 559.06,292.78 559.31,290.8 559.56,288.63 559.81,286.47 560.06,284.85" stroke="#ec2727" stroke-width="1.37" fill="none" stroke-linejoin="round" stroke-linecap="round"/><polyline points="560.06,284.85 560.31,284.76 560.56,286.96 560.81,291.06 561.06,296.07 561.31,301.34 561.56,306.66 561.81,312.02 562.06,317.5 562.31,323.18 562.56,329.08 562.81,334.82 563.06,339.09 563.31,340.04 563.56,338.02 563.81,335.01 564.06,332.09" stroke="#ec2323" stroke-width="1.39" fill="none" stroke-linejoin="round" stroke-linecap="round"/><polyline points="564.06,332.09 564.31,329.53 564.56,327.35 564.81,325.48 565.06,323.86 565.31,322.45 565.56,321.19 565.81,320.08 566.06,319.07 566.31,318.15 566.56,317.31 566.81,316.54 567.06,315.82 567.31,315.15 567.56,314.52 567.81,313.92 568.06,313.36" stroke="#ec2222" stroke-width="1.4" fill="none" stroke-linejoin="round" stroke-linecap="round"/><polyline points="568.06,313.36 568.31,312.82 568.56,312.31 568.81,311.83 569.06,311.36 569.31,310.91 569.56,310.47 569.81,310.05 570.06,309.65 570.31,309.25 570.56,308.87 570.81,308.49 571.06,308.13 571.31,307.77 571.56,307.43 571.81,307.08 572.06,306.75" stroke="#ec2222" stroke-width="1.4" fill="none" stroke-linejoin="round" stroke-linecap="round"/><polyline points="572.06,306.75 572.31,306.42 572.56,306.1 572.81,305.78 573.06,305.47 573.31,305.17 573.56,304.86 573.81,304.56 574.06,304.27 574.31,303.98 574.56,303.69 574.81,303.41 575.06,303.13 575.31,302.85 575.56,302.57 575.81,302.3 576.06,302.03" stroke="#ec2222" stroke-width="1.4" fill="none" stroke-linejoin="round" stroke-linecap="round"/><polyline points="576.06,302.03 576.31,301.76 576.56,301.5 576.81,301.23 577.06,300.97 577.31,300.71 577.56,300.45 577.81,300.2 578.06,299.94 578.31,299.69 578.56,299.44 578.81,299.19 579.06,298.94 579.31,298.69 579.56,298.45 579.81,298.2 580.06,297.96" stroke="#ec2222" stroke-width="1.4" fill="none" stroke-linejoin="round" stroke-linecap="round"/><polyline points="580.06,297.96 580.31,297.71 580.56,297.47 580.81,297.23 581.06,296.99 581.31,296.75 581.56,296.52 581.81,296.28 582.06,296.04 582.31,295.81 582.56,295.57 582.81,295.34 583.06,295.11 583.31,294.88 583.56,294.65 583.81,294.41 584.06,294.18" stroke="#ec2222" stroke-width="1.4" fill="none" stroke-linejoin="round" stroke-linecap="round"/><polyline points="584.06,294.18 584.31,293.96 584.56,293.73 584.81,293.5 585.06,293.27 585.31,293.04 585.56,292.82 585.81,292.59 586.06,292.37 586.31,292.14 586.56,291.92 586.81,291.7 587.06,291.47 587.31,291.25 587.56,291.03 587.81,290.81 588.06,290.58" stroke="#ec2222" stroke-width="1.4" fill="none" stroke-linejoin="round" stroke-linecap="round"/><polyline points="588.06,290.58 588.31,290.36 588.56,290.14 588.81,289.92 589.06,289.7 589.31,289.48 589.56,289.26 589.81,289.05 590.06,288.83 590.31,288.61 590.56,288.39 590.81,288.18 591.06,287.96 591.31,287.74 591.56,287.53 591.81,287.31 592.06,287.1" stroke="#ec2222" stroke-width="1.4" fill="none" stroke-linejoin="round" stroke-linecap="round"/><polyline points="592.06,287.1 592.31,286.88 592.56,286.67 592.81,286.45 593.06,286.24 593.31,286.03 593.56,285.81 593.81,285.6 594.06,285.39 594.31,285.18 594.56,284.96 594.81,284.75 595.06,284.54 595.31,284.33 595.56,284.12 595.81,283.91 596.06,283.7" stroke="#ec2222" stroke-width="1.4" fill="none" stroke-linejoin="round" stroke-linecap="round"/><polyline points="596.06,283.7 596.31,283.49 596.56,283.28 596.81,283.07 597.06,282.86 597.31,282.65 597.56,282.45 597.81,282.24 598.06,282.03 598.31,281.82 598.56,281.62 598.81,281.41 599.06,281.2 599.31,281 599.56,280.79 599.81,280.59 600.06,280.38" stroke="#ec2222" stroke-width="1.4" fill="none" stroke-linejoin="round" stroke-linecap="round"/><polyline points="600.06,280.38 600.31,280.18 600.56,279.98 600.81,279.77 601.06,279.57 601.31,279.37 601.56,279.16 601.81,278.96 602.06,278.76 602.31,278.56 602.56,278.36 602.81,278.16 603.06,277.95 603.31,277.75 603.56,277.56 603.81,277.36 604.06,277.16" stroke="#ec2222" stroke-width="1.4" fill="none" stroke-linejoin="round" stroke-linecap="round"/><polyline points="604.06,277.16 604.31,276.96 604.56,276.76 604.81,276.56 605.06,276.37 605.31,276.17 605.56,275.97 605.81,275.78 606.06,275.58 606.31,275.39 606.56,275.19 606.81,275 607.06,274.81 607.31,274.61 607.56,274.42 607.81,274.23 608.06,274.04" stroke="#ec2222" stroke-width="1.4" fill="none" stroke-linejoin="round" stroke-linecap="round"/><polyline points="608.06,274.04 608.31,273.84 608.56,273.65 608.81,273.46 609.06,273.27 609.31,273.09 609.56,272.9 609.81,272.71 610.06,272.52 610.31,272.34 610.56,272.15 610.81,271.96 611.06,271.78 611.31,271.59 611.56,271.41 611.81,271.23 612.06,271.04" stroke="#ec2222" stroke-width="1.4" fill="none" stroke-linejoin="round" stroke-linecap="round"/><polyline points="612.06,271.04 612.31,270.86 612.56,270.68 612.81,270.5 613.06,270.32 613.31,270.14 613.56,269.96 613.81,269.78 614.06,269.61 614.31,269.43 614.56,269.26 614.81,269.08 615.06,268.91 615.31,268.73 615.56,268.56 615.81,268.39 616.06,268.22" stroke="#ec2222" stroke-width="1.4" fill="none" stroke-linejoin="round" stroke-linecap="round"/><polyline points="616.06,268.22 616.31,268.05 616.56,267.88 616.81,267.71 617.06,267.54 617.31,267.37 617.56,267.21 617.81,267.04 618.06,266.88 618.31,266.71 618.56,266.55 618.81,266.39 619.06,266.23 619.31,266.07 619.56,265.91 619.81,265.75 620.06,265.59" stroke="#ec2222" stroke-width="1.4" fill="none" stroke-linejoin="round" stroke-linecap="round"/><polyline points="620.06,265.59 620.31,265.43 620.56,265.28 620.81,265.12 621.06,264.97 621.31,264.82 621.56,264.67 621.81,264.51 622.06,264.36 622.31,264.22 622.56,264.07 622.81,263.92 623.06,263.78 623.31,263.63 623.56,263.49 623.81,263.35 624.06,263.2" stroke="#ec2222" stroke-width="1.4" fill="none" stroke-linejoin="round" stroke-linecap="round"/><polyline points="624.06,263.2 624.31,263.06 624.56,262.93 624.81,262.79 625.06,262.65 625.31,262.51 625.56,262.38 625.81,262.25 626.06,262.11 626.31,261.98 626.56,261.85 626.81,261.72 627.06,261.6 627.31,261.47 627.56,261.34 627.81,261.22 628.06,261.1" stroke="#ec2222" stroke-width="1.4" fill="none" stroke-linejoin="round" stroke-linecap="round"/><polyline points="628.06,261.1 628.31,260.97 628.56,260.85 628.81,260.73 629.06,260.62 629.31,260.5 629.56,260.38 629.81,260.27 630.06,260.15 630.31,260.04 630.56,259.93 630.81,259.82 631.06,259.71 631.31,259.6 631.56,259.5 631.81,259.39 632.06,259.29" stroke="#ec2222" stroke-width="1.4" fill="none" stroke-linejoin="round" stroke-linecap="round"/><polyline points="632.06,259.29 632.31,259.18 632.56,259.08 632.81,258.98 633.06,258.88 633.31,258.78 633.56,258.69 633.81,258.59 634.06,258.5 634.31,258.4 634.56,258.31 634.81,258.22 635.06,258.13 635.31,258.04 635.56,257.96 635.81,257.87 636.06,257.78" stroke="#ec2222" stroke-width="1.4" fill="none" stroke-linejoin="round" stroke-linecap="round"/><polyline points="636.06,257.78 636.31,257.7 636.56,257.62 636.81,257.54 637.06,257.45 637.31,257.38 637.56,257.3 637.81,257.22 638.06,257.14 638.31,257.07 638.56,256.99 638.81,256.92 639.06,256.85 639.31,256.78 639.56,256.71 639.81,256.64 640.06,256.57" stroke="#ec2222" stroke-width="1.4" fill="none" stroke-linejoin="round" stroke-linecap="round"/><polyline points="640.06,256.57 640.31,256.51 640.56,256.44 640.81,256.38 641.06,256.31 641.31,256.25 641.56,256.19 641.81,256.13 642.06,256.07 642.31,256.01 642.56,255.95 642.81,255.9 643.06,255.84 643.31,255.79 643.56,255.73 643.81,255.68 644.06,255.63" stroke="#ec2222" stroke-width="1.4" fill="none" stroke-linejoin="round" stroke-linecap="round"/><polyline points="644.06,255.63 644.31,255.58 644.56,255.52 644.81,255.48 645.06,255.43 645.31,255.38 645.56,255.33 645.81,255.29 646.06,255.24 646.31,255.2 646.56,255.15 646.81,255.11 647.06,255.07 647.31,255.03 647.56,254.98 647.81,254.94 648.06,254.9" stroke="#ec2222" stroke-width="1.4" fill="none" stroke-linejoin="round" stroke-linecap="round"/><polyline points="648.06,254.9 648.31,254.87 648.56,254.83 648.81,254.79 649.06,254.75 649.31,254.72 649.56,254.68 649.81,254.65 650.06,254.62 650.31,254.58 650.56,254.55 650.81,254.52 651.06,254.49 651.31,254.46 651.56,254.43 651.81,254.4 652.06,254.37" stroke="#ec2222" stroke-width="1.4" fill="none" stroke-linejoin="round" stroke-linecap="round"/><polyline points="652.06,254.37 652.31,254.34 652.56,254.31 652.81,254.28 653.06,254.26 653.31,254.23 653.56,254.2 653.81,254.18 654.06,254.15 654.31,254.13 654.56,254.11 654.81,254.08 655.06,254.06 655.31,254.04 655.56,254.02 655.81,253.99 656.06,253.97" stroke="#ec2222" stroke-width="1.4" fill="none" stroke-linejoin="round" stroke-linecap="round"/><polyline points="656.06,253.97 656.31,253.95 656.56,253.93 656.81,253.91 657.06,253.89 657.31,253.87 657.56,253.85 657.81,253.84 658.06,253.82 658.31,253.8 658.56,253.78 658.81,253.77 659.06,253.75 659.31,253.73 659.56,253.72 659.81,253.7 660.06,253.69" stroke="#ec2222" stroke-width="1.4" fill="none" stroke-linejoin="round" stroke-linecap="round"/><polyline points="660.06,253.69 660.31,253.67 660.56,253.66 660.81,253.64 661.06,253.63 661.31,253.62 661.56,253.6 661.81,253.59 662.06,253.58 662.31,253.56 662.56,253.55 662.81,253.54 663.06,253.53 663.31,253.52 663.56,253.51 663.81,253.49 664.06,253.48" stroke="#ec2222" stroke-width="1.4" fill="none" stroke-linejoin="round" stroke-linecap="round"/><polyline points="664.06,253.48 664.31,253.47 664.56,253.46 664.81,253.45 665.06,253.44 665.31,253.43 665.56,253.42 665.81,253.41 666.06,253.4 666.31,253.4 666.56,253.39 666.81,253.38 667.06,253.37 667.31,253.36" stroke="#ec2222" stroke-width="1.4" fill="none" stroke-linejoin="round" stroke-linecap="round"/><text x="400.96 405.86 411.96 417.66" y="423.4" class="m" font-size="11.6">1×10</text><text x="423.26" y="417.4" class="m" font-size="8.8">4</text><text x="451.4 456.3 462.4 468.1" y="423.4" class="m" font-size="11.6">1×10</text><text x="473.7" y="417.4" class="m" font-size="8.8">5</text><text x="502.3 507.2 513.3 519" y="423.4" class="m" font-size="11.6">1×10</text><text x="524.6" y="417.4" class="m" font-size="8.8">6</text><text x="554 558.9 565 570.7" y="423.4" class="m" font-size="11.6">1×10</text><text x="576.3" y="417.4" class="m" font-size="8.8">7</text><text x="604.7 609.6 615.7 621.4" y="423.4" class="m" font-size="11.6">1×10</text><text x="627" y="417.4" class="m" font-size="8.8">8</text><text x="656.4 661.3 667.4 673.1" y="423.4" class="m" font-size="11.6">1×10</text><text x="678.7" y="417.4" class="m" font-size="8.8">9</text><text x="539.6" y="440.4" class="m" font-size="12">f</text><text x="364" y="331.7" class="m" font-size="11.3" textLength="20.6" lengthAdjust="spacingAndGlyphs">Gain</text><text x="384.3 388.4 392.9 397.7 402 406.4" y="331.7" class="m" font-size="11.3">(s(f))</text><path d="M363 338.4H384.1" stroke="#ff3030" stroke-width="2"/><path d="M735.4 278.3H985.2M735.4 299.4H985.2M735.4 320.8H985.2M735.4 341.6H985.2M735.4 362.7H985.2M735.4 383.9H985.2M750.33 257V404.2M759.07 257V404.2M765.26 257V404.2M770.07 257V404.2M774 257V404.2M777.32 257V404.2M780.19 257V404.2M782.73 257V404.2M799.99 257V404.2M808.76 257V404.2M814.98 257V404.2M819.81 257V404.2M823.75 257V404.2M827.09 257V404.2M829.97 257V404.2M832.52 257V404.2M850 257V404.2M858.89 257V404.2M865.2 257V404.2M870.1 257V404.2M874.1 257V404.2M877.48 257V404.2M880.41 257V404.2M882.99 257V404.2M900.02 257V404.2M908.63 257V404.2M914.74 257V404.2M919.48 257V404.2M923.35 257V404.2M926.63 257V404.2M929.46 257V404.2M931.96 257V404.2M949.55 257V404.2M958.53 257V404.2M964.91 257V404.2M969.85 257V404.2M973.89 257V404.2M977.3 257V404.2M980.26 257V404.2M982.87 257V404.2" stroke="#2bff2b" stroke-width="1.25" fill="none"/><path d="M785 257V404.2M834.8 257V404.2M885.3 257V404.2M934.2 257V404.2" stroke="#666" stroke-width="1.8" fill="none"/><rect x="735.4" y="257" width="249.8" height="147.2" fill="none" stroke="#4a4a4a" stroke-width="1.4"/><polyline points="735.4,278.02 735.65,278.21 735.9,278.39 736.15,278.58 736.4,278.77 736.65,278.96 736.9,279.15 737.15,279.35 737.4,279.54 737.65,279.73 737.9,279.92 738.15,280.11 738.4,280.31 738.65,280.5 738.9,280.69 739.15,280.89 739.4,281.08" stroke="#ee4c4c" stroke-width="1.15" fill="none" stroke-linejoin="round" stroke-linecap="round"/><polyline points="739.4,281.08 739.65,281.27 739.9,281.47 740.15,281.66 740.4,281.86 740.65,282.05 740.9,282.25 741.15,282.44 741.4,282.64 741.65,282.84 741.9,283.03 742.15,283.23 742.4,283.43 742.65,283.63 742.9,283.82 743.15,284.02 743.4,284.22" stroke="#ee4c4c" stroke-width="1.15" fill="none" stroke-linejoin="round" stroke-linecap="round"/><polyline points="743.4,284.22 743.65,284.42 743.9,284.62 744.15,284.81 744.4,285.01 744.65,285.21 744.9,285.41 745.15,285.61 745.4,285.81 745.65,286.01 745.9,286.21 746.15,286.41 746.4,286.61 746.65,286.81 746.9,287.01 747.15,287.21 747.4,287.41" stroke="#ee4c4c" stroke-width="1.15" fill="none" stroke-linejoin="round" stroke-linecap="round"/><polyline points="747.4,287.41 747.65,287.61 747.9,287.82 748.15,288.02 748.4,288.22 748.65,288.42 748.9,288.62 749.15,288.82 749.4,289.03 749.65,289.23 749.9,289.43 750.15,289.63 750.4,289.84 750.65,290.04 750.9,290.24 751.15,290.45 751.4,290.65" stroke="#ee4c4c" stroke-width="1.15" fill="none" stroke-linejoin="round" stroke-linecap="round"/><polyline points="751.4,290.65 751.65,290.85 751.9,291.06 752.15,291.26 752.4,291.46 752.65,291.67 752.9,291.87 753.15,292.07 753.4,292.28 753.65,292.48 753.9,292.69 754.15,292.89 754.4,293.09 754.65,293.3 754.9,293.5 755.15,293.71 755.4,293.91" stroke="#ee4c4c" stroke-width="1.15" fill="none" stroke-linejoin="round" stroke-linecap="round"/><polyline points="755.4,293.91 755.65,294.12 755.9,294.32 756.15,294.53 756.4,294.73 756.65,294.94 756.9,295.14 757.15,295.35 757.4,295.55 757.65,295.76 757.9,295.96 758.15,296.17 758.4,296.38 758.65,296.58 758.9,296.79 759.15,296.99 759.4,297.2" stroke="#ee4c4c" stroke-width="1.15" fill="none" stroke-linejoin="round" stroke-linecap="round"/><polyline points="759.4,297.2 759.65,297.41 759.9,297.61 760.15,297.82 760.4,298.02 760.65,298.23 760.9,298.44 761.15,298.64 761.4,298.85 761.65,299.06 761.9,299.26 762.15,299.47 762.4,299.68 762.65,299.88 762.9,300.09 763.15,300.3 763.4,300.5" stroke="#ee4c4c" stroke-width="1.15" fill="none" stroke-linejoin="round" stroke-linecap="round"/><polyline points="763.4,300.5 763.65,300.71 763.9,300.92 764.15,301.12 764.4,301.33 764.65,301.54 764.9,301.75 765.15,301.95 765.4,302.16 765.65,302.37 765.9,302.58 766.15,302.78 766.4,302.99 766.65,303.2 766.9,303.41 767.15,303.61 767.4,303.82" stroke="#ee4c4c" stroke-width="1.15" fill="none" stroke-linejoin="round" stroke-linecap="round"/><polyline points="767.4,303.82 767.65,304.03 767.9,304.24 768.15,304.45 768.4,304.65 768.65,304.86 768.9,305.07 769.15,305.28 769.4,305.49 769.65,305.7 769.9,305.9 770.15,306.11 770.4,306.32 770.65,306.53 770.9,306.74 771.15,306.95 771.4,307.16" stroke="#ee4c4c" stroke-width="1.15" fill="none" stroke-linejoin="round" stroke-linecap="round"/><polyline points="771.4,307.16 771.65,307.36 771.9,307.57 772.15,307.78 772.4,307.99 772.65,308.2 772.9,308.41 773.15,308.62 773.4,308.83 773.65,309.04 773.9,309.25 774.15,309.46 774.4,309.67 774.65,309.88 774.9,310.09 775.15,310.3 775.4,310.51" stroke="#ee4c4c" stroke-width="1.15" fill="none" stroke-linejoin="round" stroke-linecap="round"/><polyline points="775.4,310.51 775.65,310.72 775.9,310.93 776.15,311.14 776.4,311.35 776.65,311.56 776.9,311.77 777.15,311.98 777.4,312.19 777.65,312.4 777.9,312.61 778.15,312.82 778.4,313.03 778.65,313.24 778.9,313.45 779.15,313.66 779.4,313.88" stroke="#ee4c4c" stroke-width="1.15" fill="none" stroke-linejoin="round" stroke-linecap="round"/><polyline points="779.4,313.88 779.65,314.09 779.9,314.3 780.15,314.51 780.4,314.72 780.65,314.93 780.9,315.15 781.15,315.36 781.4,315.57 781.65,315.78 781.9,316 782.15,316.21 782.4,316.42 782.65,316.63 782.9,316.85 783.15,317.06 783.4,317.27" stroke="#ee4c4c" stroke-width="1.15" fill="none" stroke-linejoin="round" stroke-linecap="round"/><polyline points="783.4,317.27 783.65,317.49 783.9,317.7 784.15,317.91 784.4,318.13 784.65,318.34 784.9,318.56 785.15,318.77 785.4,318.99 785.65,319.2 785.9,319.42 786.15,319.63 786.4,319.85 786.65,320.06 786.9,320.28 787.15,320.49 787.4,320.71" stroke="#ee4c4c" stroke-width="1.15" fill="none" stroke-linejoin="round" stroke-linecap="round"/><polyline points="787.4,320.71 787.65,320.93 787.9,321.14 788.15,321.36 788.4,321.58 788.65,321.79 788.9,322.01 789.15,322.23 789.4,322.45 789.65,322.66 789.9,322.88 790.15,323.1 790.4,323.32 790.65,323.54 790.9,323.76 791.15,323.98 791.4,324.2" stroke="#ee4c4c" stroke-width="1.15" fill="none" stroke-linejoin="round" stroke-linecap="round"/><polyline points="791.4,324.2 791.65,324.42 791.9,324.64 792.15,324.86 792.4,325.08 792.65,325.3 792.9,325.53 793.15,325.75 793.4,325.97 793.65,326.19 793.9,326.42 794.15,326.64 794.4,326.87 794.65,327.09 794.9,327.32 795.15,327.54 795.4,327.77" stroke="#ee4c4c" stroke-width="1.15" fill="none" stroke-linejoin="round" stroke-linecap="round"/><polyline points="795.4,327.77 795.65,327.99 795.9,328.22 796.15,328.45 796.4,328.68 796.65,328.9 796.9,329.13 797.15,329.36 797.4,329.59 797.65,329.82 797.9,330.05 798.15,330.29 798.4,330.52 798.65,330.75 798.9,330.98 799.15,331.22 799.4,331.45" stroke="#ee4c4c" stroke-width="1.15" fill="none" stroke-linejoin="round" stroke-linecap="round"/><polyline points="799.4,331.45 799.65,331.69 799.9,331.92 800.15,332.16 800.4,332.4 800.65,332.64 800.9,332.88 801.15,333.12 801.4,333.36 801.65,333.6 801.9,333.84 802.15,334.08 802.4,334.33 802.65,334.57 802.9,334.82 803.15,335.06 803.4,335.31" stroke="#ee4c4c" stroke-width="1.15" fill="none" stroke-linejoin="round" stroke-linecap="round"/><polyline points="803.4,335.31 803.65,335.56 803.9,335.81 804.15,336.06 804.4,336.31 804.65,336.57 804.9,336.82 805.15,337.08 805.4,337.33 805.65,337.59 805.9,337.85 806.15,338.11 806.4,338.37 806.65,338.64 806.9,338.9 807.15,339.17 807.4,339.44" stroke="#ee4c4c" stroke-width="1.15" fill="none" stroke-linejoin="round" stroke-linecap="round"/><polyline points="807.4,339.44 807.65,339.71 807.9,339.98 808.15,340.25 808.4,340.52 808.65,340.8 808.9,341.08 809.15,341.36 809.4,341.64 809.65,341.92 809.9,342.21 810.15,342.5 810.4,342.79 810.65,343.08 810.9,343.37 811.15,343.67 811.4,343.97" stroke="#ee4c4c" stroke-width="1.15" fill="none" stroke-linejoin="round" stroke-linecap="round"/><polyline points="811.4,343.97 811.65,344.27 811.9,344.57 812.15,344.88 812.4,345.19 812.65,345.5 812.9,345.82 813.15,346.14 813.4,346.46 813.65,346.78 813.9,347.11 814.15,347.44 814.4,347.78 814.65,348.12 814.9,348.46 815.15,348.81 815.4,349.16" stroke="#ee4c4c" stroke-width="1.15" fill="none" stroke-linejoin="round" stroke-linecap="round"/><polyline points="815.4,349.16 815.65,349.51 815.9,349.87 816.15,350.23 816.4,350.6 816.65,350.97 816.9,351.35 817.15,351.73 817.4,352.12 817.65,352.51 817.9,352.91 818.15,353.32 818.4,353.73 818.65,354.14 818.9,354.56 819.15,354.99 819.4,355.43" stroke="#ee4c4c" stroke-width="1.15" fill="none" stroke-linejoin="round" stroke-linecap="round"/><polyline points="819.4,355.43 819.65,355.87 819.9,356.32 820.15,356.77 820.4,357.24 820.65,357.71 820.9,358.19 821.15,358.67 821.4,359.17 821.65,359.67 821.9,360.18 822.15,360.7 822.4,361.23 822.65,361.76 822.9,362.3 823.15,362.85 823.4,363.41" stroke="#ee4c4c" stroke-width="1.15" fill="none" stroke-linejoin="round" stroke-linecap="round"/><polyline points="823.4,363.41 823.65,363.97 823.9,364.54 824.15,365.11 824.4,365.68 824.65,366.26 824.9,366.83 825.15,367.41 825.4,367.97 825.65,368.53 825.9,369.08 826.15,369.61 826.4,370.11 826.65,370.59 826.9,371.04 827.15,371.44 827.4,371.8" stroke="#ee4c4c" stroke-width="1.15" fill="none" stroke-linejoin="round" stroke-linecap="round"/><polyline points="827.4,371.8 827.65,372.11 827.9,372.35 828.15,372.54 828.4,372.65 828.65,372.7 828.9,372.68 829.15,372.58 829.4,372.42 829.65,372.19 829.9,371.9 830.15,371.55 830.4,371.16 830.65,370.73 830.9,370.26 831.15,369.76 831.4,369.23" stroke="#ee4c4c" stroke-width="1.15" fill="none" stroke-linejoin="round" stroke-linecap="round"/><polyline points="831.4,369.23 831.65,368.69 831.9,368.13 832.15,367.57 832.4,366.99 832.65,366.42 832.9,365.84 833.15,365.26 833.4,364.69 833.65,364.12 833.9,363.55 834.15,362.99 834.4,362.44 834.65,361.89 834.9,361.36 835.15,360.83 835.4,360.3" stroke="#ee4c4c" stroke-width="1.15" fill="none" stroke-linejoin="round" stroke-linecap="round"/><polyline points="835.4,360.3 835.65,359.79 835.9,359.28 836.15,358.78 836.4,358.29 836.65,357.81 836.9,357.33 837.15,356.87 837.4,356.41 837.65,355.95 837.9,355.51 838.15,355.07 838.4,354.63 838.65,354.21 838.9,353.79 839.15,353.37 839.4,352.97" stroke="#ee4c4c" stroke-width="1.15" fill="none" stroke-linejoin="round" stroke-linecap="round"/><polyline points="839.4,352.97 839.65,352.56 839.9,352.17 840.15,351.77 840.4,351.39 840.65,351.01 840.9,350.63 841.15,350.26 841.4,349.89 841.65,349.53 841.9,349.17 842.15,348.82 842.4,348.47 842.65,348.12 842.9,347.78 843.15,347.44 843.4,347.1" stroke="#ee4c4c" stroke-width="1.15" fill="none" stroke-linejoin="round" stroke-linecap="round"/><polyline points="843.4,347.1 843.65,346.77 843.9,346.44 844.15,346.11 844.4,345.79 844.65,345.47 844.9,345.15 845.15,344.84 845.4,344.53 845.65,344.22 845.9,343.91 846.15,343.61 846.4,343.31 846.65,343.01 846.9,342.71 847.15,342.41 847.4,342.12" stroke="#ee4c4c" stroke-width="1.15" fill="none" stroke-linejoin="round" stroke-linecap="round"/><polyline points="847.4,342.12 847.65,341.83 847.9,341.54 848.15,341.25 848.4,340.97 848.65,340.69 848.9,340.4 849.15,340.12 849.4,339.85 849.65,339.57 849.9,339.29 850.15,339.02 850.4,338.75 850.65,338.47 850.9,338.2 851.15,337.94 851.4,337.67" stroke="#ee4c4c" stroke-width="1.15" fill="none" stroke-linejoin="round" stroke-linecap="round"/><polyline points="851.4,337.67 851.65,337.4 851.9,337.14 852.15,336.87 852.4,336.61 852.65,336.35 852.9,336.09 853.15,335.83 853.4,335.57 853.65,335.31 853.9,335.05 854.15,334.79 854.4,334.54 854.65,334.28 854.9,334.03 855.15,333.77 855.4,333.52" stroke="#ee4c4c" stroke-width="1.15" fill="none" stroke-linejoin="round" stroke-linecap="round"/><polyline points="855.4,333.52 855.65,333.27 855.9,333.01 856.15,332.76 856.4,332.51 856.65,332.26 856.9,332.01 857.15,331.76 857.4,331.51 857.65,331.26 857.9,331.01 858.15,330.77 858.4,330.52 858.65,330.27 858.9,330.02 859.15,329.77 859.4,329.53" stroke="#ee4c4c" stroke-width="1.15" fill="none" stroke-linejoin="round" stroke-linecap="round"/><polyline points="859.4,329.53 859.65,329.28 859.9,329.03 860.15,328.78 860.4,328.54 860.65,328.29 860.9,328.04 861.15,327.8 861.4,327.55 861.65,327.3 861.9,327.05 862.15,326.81 862.4,326.56 862.65,326.31 862.9,326.06 863.15,325.81 863.4,325.56" stroke="#ee4c4c" stroke-width="1.15" fill="none" stroke-linejoin="round" stroke-linecap="round"/><polyline points="863.4,325.56 863.65,325.31 863.9,325.06 864.15,324.81 864.4,324.56 864.65,324.3 864.9,324.05 865.15,323.8 865.4,323.54 865.65,323.29 865.9,323.03 866.15,322.77 866.4,322.51 866.65,322.25 866.9,321.99 867.15,321.73 867.4,321.47" stroke="#ee4848" stroke-width="1.17" fill="none" stroke-linejoin="round" stroke-linecap="round"/><polyline points="867.4,321.47 867.65,321.2 867.9,320.93 868.15,320.67 868.4,320.4 868.65,320.12 868.9,319.85 869.15,319.57 869.4,319.29 869.65,319.01 869.9,318.73 870.15,318.44 870.4,318.15 870.65,317.85 870.9,317.56 871.15,317.26 871.4,316.95" stroke="#ee4242" stroke-width="1.21" fill="none" stroke-linejoin="round" stroke-linecap="round"/><polyline points="871.4,316.95 871.65,316.64 871.9,316.33 872.15,316.01 872.4,315.68 872.65,315.35 872.9,315.01 873.15,314.66 873.4,314.31 873.65,313.95 873.9,313.58 874.15,313.2 874.4,312.81 874.65,312.4 874.9,311.98 875.15,311.55 875.4,311.1" stroke="#ed3a3a" stroke-width="1.26" fill="none" stroke-linejoin="round" stroke-linecap="round"/><polyline points="875.4,311.1 875.65,310.63 875.9,310.14 876.15,309.63 876.4,309.09 876.65,308.52 876.9,307.91 877.15,307.27 877.4,306.58 877.65,305.83 877.9,305.02 878.15,304.13 878.4,303.15 878.65,302.07 878.9,300.84 879.15,299.45 879.4,297.86" stroke="#ed3232" stroke-width="1.3" fill="none" stroke-linejoin="round" stroke-linecap="round"/><polyline points="879.4,297.86 879.65,296.01 879.9,293.87 880.15,291.4 880.4,288.76 880.65,288.3 880.9,288.3 881.15,289.42 881.4,294.57 881.65,300.36 881.9,306.19 882.15,311.97 882.4,317.82 882.65,323.93 882.9,330.44 883.15,337.15 883.4,341.2" stroke="#ec2a2a" stroke-width="1.35" fill="none" stroke-linejoin="round" stroke-linecap="round"/><polyline points="883.4,341.2 883.65,341.2 883.9,339.99 884.15,336.3 884.4,333.09 884.65,330.44 884.9,328.26 885.15,326.42 885.4,324.86 885.65,323.51 885.9,322.32 886.15,321.27 886.4,320.32 886.65,319.46 886.9,318.67 887.15,317.94 887.4,317.27" stroke="#ec2525" stroke-width="1.38" fill="none" stroke-linejoin="round" stroke-linecap="round"/><polyline points="887.4,317.27 887.65,316.64 887.9,316.05 888.15,315.49 888.4,314.97 888.65,314.46 888.9,313.98 889.15,313.53 889.4,313.09 889.65,312.66 889.9,312.25 890.15,311.85 890.4,311.47 890.65,311.1 890.9,310.73 891.15,310.38 891.4,310.03" stroke="#ec2222" stroke-width="1.4" fill="none" stroke-linejoin="round" stroke-linecap="round"/><polyline points="891.4,310.03 891.65,309.69 891.9,309.36 892.15,309.04 892.4,308.72 892.65,308.4 892.9,308.1 893.15,307.79 893.4,307.49 893.65,307.2 893.9,306.91 894.15,306.62 894.4,306.34 894.65,306.05 894.9,305.78 895.15,305.5 895.4,305.23" stroke="#ec2222" stroke-width="1.4" fill="none" stroke-linejoin="round" stroke-linecap="round"/><polyline points="895.4,305.23 895.65,304.96 895.9,304.69 896.15,304.43 896.4,304.16 896.65,303.9 896.9,303.64 897.15,303.38 897.4,303.13 897.65,302.87 897.9,302.62 898.15,302.37 898.4,302.12 898.65,301.87 898.9,301.62 899.15,301.38 899.4,301.13" stroke="#ec2222" stroke-width="1.4" fill="none" stroke-linejoin="round" stroke-linecap="round"/><polyline points="899.4,301.13 899.65,300.89 899.9,300.64 900.15,300.4 900.4,300.16 900.65,299.92 900.9,299.68 901.15,299.44 901.4,299.2 901.65,298.96 901.9,298.72 902.15,298.48 902.4,298.25 902.65,298.01 902.9,297.77 903.15,297.54 903.4,297.3" stroke="#ec2222" stroke-width="1.4" fill="none" stroke-linejoin="round" stroke-linecap="round"/><polyline points="903.4,297.3 903.65,297.07 903.9,296.84 904.15,296.6 904.4,296.37 904.65,296.13 904.9,295.9 905.15,295.67 905.4,295.43 905.65,295.2 905.9,294.97 906.15,294.74 906.4,294.5 906.65,294.27 906.9,294.04 907.15,293.8 907.4,293.57" stroke="#ec2222" stroke-width="1.4" fill="none" stroke-linejoin="round" stroke-linecap="round"/><polyline points="907.4,293.57 907.65,293.34 907.9,293.11 908.15,292.87 908.4,292.64 908.65,292.4 908.9,292.17 909.15,291.93 909.4,291.7 909.65,291.46 909.9,291.23 910.15,290.99 910.4,290.75 910.65,290.52 910.9,290.28 911.15,290.04 911.4,289.8" stroke="#ec2222" stroke-width="1.4" fill="none" stroke-linejoin="round" stroke-linecap="round"/><polyline points="911.4,289.8 911.65,289.56 911.9,289.32 912.15,289.07 912.4,288.83 912.65,288.59 912.9,288.34 913.15,288.09 913.4,287.84 913.65,287.59 913.9,287.34 914.15,287.08 914.4,286.83 914.65,286.57 914.9,286.31 915.15,286.04 915.4,285.78" stroke="#ec2222" stroke-width="1.4" fill="none" stroke-linejoin="round" stroke-linecap="round"/><polyline points="915.4,285.78 915.65,285.51 915.9,285.24 916.15,284.96 916.4,284.68 916.65,284.4 916.9,284.11 917.15,283.81 917.4,283.51 917.65,283.21 917.9,282.9 918.15,282.58 918.4,282.25 918.65,281.91 918.9,281.56 919.15,281.2 919.4,280.83" stroke="#ec2222" stroke-width="1.4" fill="none" stroke-linejoin="round" stroke-linecap="round"/><polyline points="919.4,280.83 919.65,280.44 919.9,280.03 920.15,279.61 920.4,279.16 920.65,278.69 920.9,278.18 921.15,277.64 921.4,277.05 921.65,276.41 921.9,275.71 922.15,274.92 922.4,274.04 922.65,273.03 922.9,271.86 923.15,270.48 923.4,268.81" stroke="#ec2222" stroke-width="1.4" fill="none" stroke-linejoin="round" stroke-linecap="round"/><polyline points="923.4,268.81 923.65,266.79 923.9,264.34 924.15,261.8 924.4,261.8 924.65,263 924.9,270.52 925.15,280.06 925.4,291 925.65,305.22 925.9,328.62 926.15,315.7 926.4,305.03 926.65,299.38 926.9,295.76 927.15,293.18 927.4,291.23" stroke="#ec2222" stroke-width="1.4" fill="none" stroke-linejoin="round" stroke-linecap="round"/><polyline points="927.4,291.23 927.65,289.67 927.9,288.4 928.15,287.32 928.4,286.39 928.65,285.58 928.9,284.85 929.15,284.2 929.4,283.6 929.65,283.06 929.9,282.55 930.15,282.08 930.4,281.63 930.65,281.22 930.9,280.82 931.15,280.44 931.4,280.08" stroke="#ec2222" stroke-width="1.4" fill="none" stroke-linejoin="round" stroke-linecap="round"/><polyline points="931.4,280.08 931.65,279.73 931.9,279.4 932.15,279.07 932.4,278.76 932.65,278.46 932.9,278.17 933.15,277.88 933.4,277.6 933.65,277.33 933.9,277.06 934.15,276.8 934.4,276.55 934.65,276.29 934.9,276.05 935.15,275.81 935.4,275.57" stroke="#ec2222" stroke-width="1.4" fill="none" stroke-linejoin="round" stroke-linecap="round"/><polyline points="935.4,275.57 935.65,275.33 935.9,275.1 936.15,274.87 936.4,274.65 936.65,274.43 936.9,274.21 937.15,273.99 937.4,273.78 937.65,273.57 937.9,273.36 938.15,273.15 938.4,272.95 938.65,272.75 938.9,272.54 939.15,272.35 939.4,272.15" stroke="#ec2222" stroke-width="1.4" fill="none" stroke-linejoin="round" stroke-linecap="round"/><polyline points="939.4,272.15 939.65,271.96 939.9,271.76 940.15,271.57 940.4,271.38 940.65,271.2 940.9,271.01 941.15,270.83 941.4,270.64 941.65,270.46 941.9,270.28 942.15,270.11 942.4,269.93 942.65,269.76 942.9,269.58 943.15,269.41 943.4,269.24" stroke="#ec2222" stroke-width="1.4" fill="none" stroke-linejoin="round" stroke-linecap="round"/><polyline points="943.4,269.24 943.65,269.07 943.9,268.91 944.15,268.74 944.4,268.58 944.65,268.41 944.9,268.25 945.15,268.09 945.4,267.93 945.65,267.77 945.9,267.62 946.15,267.46 946.4,267.31 946.65,267.16 946.9,267.01 947.15,266.86 947.4,266.71" stroke="#ec2222" stroke-width="1.4" fill="none" stroke-linejoin="round" stroke-linecap="round"/><polyline points="947.4,266.71 947.65,266.56 947.9,266.42 948.15,266.28 948.4,266.13 948.65,265.99 948.9,265.85 949.15,265.71 949.4,265.58 949.65,265.44 949.9,265.31 950.15,265.17 950.4,265.04 950.65,264.91 950.9,264.78 951.15,264.65 951.4,264.53" stroke="#ec2222" stroke-width="1.4" fill="none" stroke-linejoin="round" stroke-linecap="round"/><polyline points="951.4,264.53 951.65,264.4 951.9,264.28 952.15,264.16 952.4,264.04 952.65,263.92 952.9,263.8 953.15,263.68 953.4,263.56 953.65,263.45 953.9,263.34 954.15,263.23 954.4,263.11 954.65,263.01 954.9,262.9 955.15,262.79 955.4,262.69" stroke="#ec2222" stroke-width="1.4" fill="none" stroke-linejoin="round" stroke-linecap="round"/><polyline points="955.4,262.69 955.65,262.58 955.9,262.48 956.15,262.38 956.4,262.28 956.65,262.18 956.9,262.08 957.15,261.99 957.4,261.89 957.65,261.8 957.9,261.7 958.15,261.61 958.4,261.52 958.65,261.43 958.9,261.35 959.15,261.26 959.4,261.17" stroke="#ec2222" stroke-width="1.4" fill="none" stroke-linejoin="round" stroke-linecap="round"/><polyline points="959.4,261.17 959.65,261.09 959.9,261.01 960.15,260.93 960.4,260.85 960.65,260.77 960.9,260.69 961.15,260.61 961.4,260.54 961.65,260.46 961.9,260.39 962.15,260.32 962.4,260.25 962.65,260.18 962.9,260.11 963.15,260.04 963.4,259.97" stroke="#ec2222" stroke-width="1.4" fill="none" stroke-linejoin="round" stroke-linecap="round"/><polyline points="963.4,259.97 963.65,259.91 963.9,259.84 964.15,259.78 964.4,259.72 964.65,259.65 964.9,259.59 965.15,259.53 965.4,259.48 965.65,259.42 965.9,259.36 966.15,259.31 966.4,259.25 966.65,259.2 966.9,259.14 967.15,259.09 967.4,259.04" stroke="#ec2222" stroke-width="1.4" fill="none" stroke-linejoin="round" stroke-linecap="round"/><polyline points="967.4,259.04 967.65,258.99 967.9,258.94 968.15,258.89 968.4,258.85 968.65,258.8 968.9,258.75 969.15,258.71 969.4,258.66 969.65,258.62 969.9,258.58 970.15,258.54 970.4,258.5 970.65,258.46 970.9,258.42 971.15,258.38 971.4,258.34" stroke="#ec2222" stroke-width="1.4" fill="none" stroke-linejoin="round" stroke-linecap="round"/><polyline points="971.4,258.34 971.65,258.3 971.9,258.27 972.15,258.23 972.4,258.2 972.65,258.16 972.9,258.13 973.15,258.09 973.4,258.06 973.65,258.03 973.9,258 974.15,257.97 974.4,257.94 974.65,257.91 974.9,257.88 975.15,257.85 975.4,257.82" stroke="#ec2222" stroke-width="1.4" fill="none" stroke-linejoin="round" stroke-linecap="round"/><polyline points="975.4,257.82 975.65,257.8 975.9,257.77 976.15,257.74 976.4,257.72 976.65,257.69 976.9,257.67 977.15,257.64 977.4,257.62 977.65,257.6 977.9,257.57 978.15,257.55 978.4,257.53 978.65,257.51 978.9,257.49 979.15,257.47 979.4,257.45" stroke="#ec2222" stroke-width="1.4" fill="none" stroke-linejoin="round" stroke-linecap="round"/><polyline points="979.4,257.45 979.65,257.43 979.9,257.41 980.15,257.39 980.4,257.37 980.65,257.35 980.9,257.34 981.15,257.32 981.4,257.3 981.65,257.28 981.9,257.27 982.15,257.25 982.4,257.24 982.65,257.22 982.9,257.21 983.15,257.19 983.4,257.18" stroke="#ec2222" stroke-width="1.4" fill="none" stroke-linejoin="round" stroke-linecap="round"/><polyline points="983.4,257.18 983.65,257.16 983.9,257.15 984.15,257.14 984.4,257.12 984.65,257.11 984.9,257.1 985.15,257.09" stroke="#ec2222" stroke-width="1.4" fill="none" stroke-linejoin="round" stroke-linecap="round"/><text x="724.3 729.2 735.3 741" y="423.7" class="m" font-size="11.6">1×10</text><text x="746.6" y="417.7" class="m" font-size="8.8">4</text><text x="773.9 778.8 784.9 790.6" y="423.7" class="m" font-size="11.6">1×10</text><text x="796.2" y="417.7" class="m" font-size="8.8">5</text><text x="823.7 828.6 834.7 840.4" y="423.7" class="m" font-size="11.6">1×10</text><text x="846" y="417.7" class="m" font-size="8.8">6</text><text x="874.2 879.1 885.2 890.9" y="423.7" class="m" font-size="11.6">1×10</text><text x="896.5" y="417.7" class="m" font-size="8.8">7</text><text x="923.1 928 934.1 939.8" y="423.7" class="m" font-size="11.6">1×10</text><text x="945.4" y="417.7" class="m" font-size="8.8">8</text><text x="974.1 979 985.1 990.8" y="423.7" class="m" font-size="11.6">1×10</text><text x="996.4" y="417.7" class="m" font-size="8.8">9</text><text x="859.5" y="441.2" class="m" font-size="12">f</text><text x="688.3" y="334.5" class="m" font-size="11.3" textLength="20.6" lengthAdjust="spacingAndGlyphs">Gain</text><text x="708.6 712.7 717.2 722 726.3 730.7" y="334.5" class="m" font-size="11.3">(s(f))</text><path d="M688 340.9H708" stroke="#ff7070" stroke-width="2"/><path d="M563.9 327.5V338.3M883.9 328V340.8" stroke="#a81414" stroke-width="1.8" stroke-linecap="round"/><path d="M925.9 299V328.3" stroke="#e01818" stroke-width="1.8" stroke-linecap="round"/><text x="827.2" y="441.8" font-family="Liberation Sans, sans-serif" font-size="19.5" fill="#bfe0b6" stroke="#bfe0b6" opacity="0.88" stroke-width="0.5" textLength="163.5" lengthAdjust="spacingAndGlyphs">www.cntronics.com</text></svg></body></html>
